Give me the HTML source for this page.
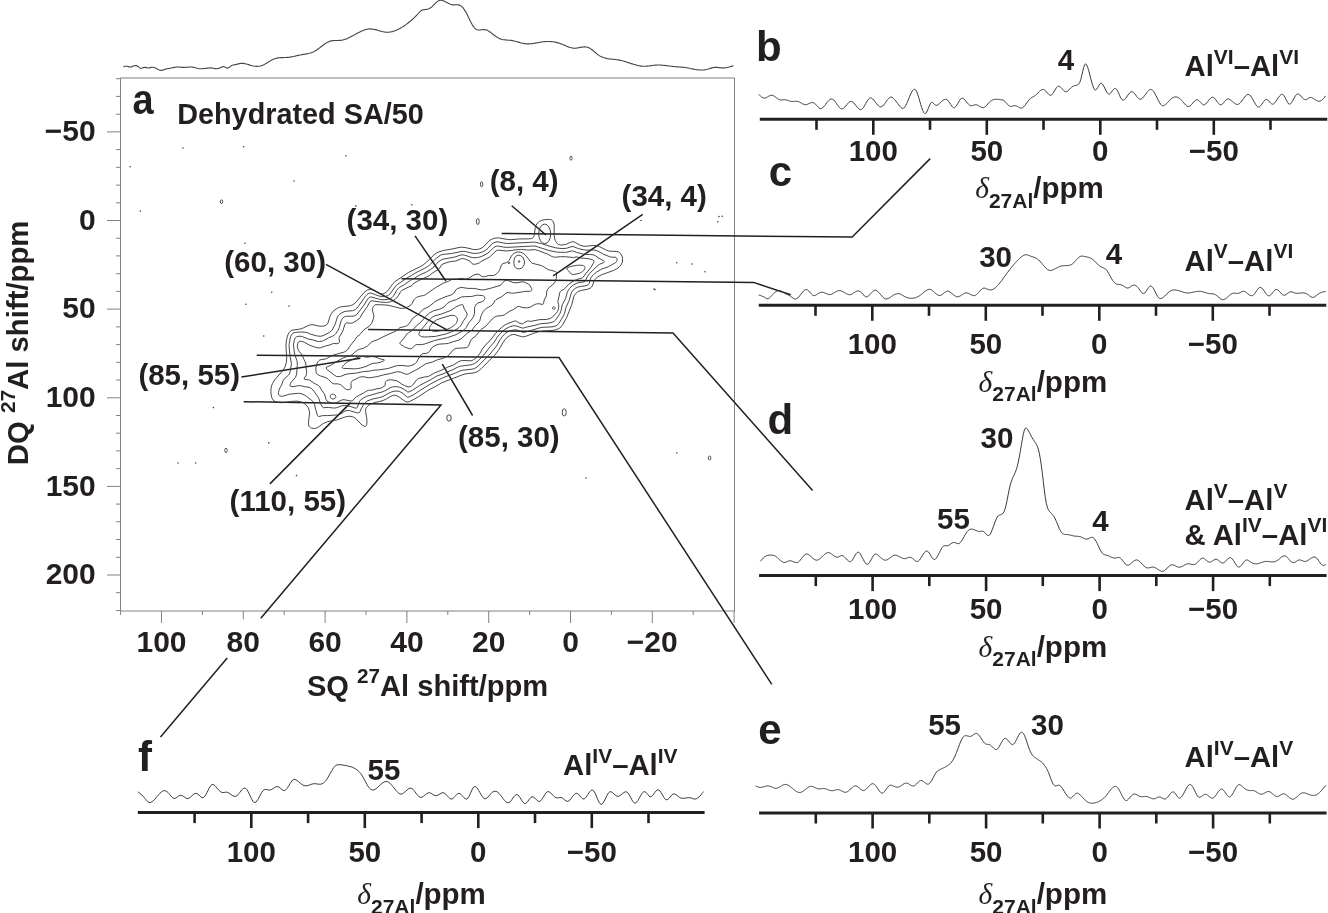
<!DOCTYPE html>
<html><head><meta charset="utf-8"><style>
html,body{margin:0;padding:0;background:#fff;}
svg{display:block;will-change:transform;}
text{font-family:"Liberation Sans",sans-serif;fill:#231f20;}
</style></head><body>
<svg width="1328" height="913" viewBox="0 0 1328 913">
<rect width="1328" height="913" fill="#fff"/>
<rect x="120.5" y="78" width="614" height="533" fill="none" stroke="#808086" stroke-width="1"/>
<line x1="116.0" y1="78.7" x2="120.5" y2="78.7" stroke="#808086" stroke-width="1.00"/>
<line x1="116.0" y1="96.4" x2="120.5" y2="96.4" stroke="#808086" stroke-width="1.00"/>
<line x1="116.0" y1="114.2" x2="120.5" y2="114.2" stroke="#808086" stroke-width="1.00"/>
<line x1="107.0" y1="131.9" x2="120.5" y2="131.9" stroke="#808086" stroke-width="1.00"/>
<line x1="116.0" y1="149.6" x2="120.5" y2="149.6" stroke="#808086" stroke-width="1.00"/>
<line x1="116.0" y1="167.3" x2="120.5" y2="167.3" stroke="#808086" stroke-width="1.00"/>
<line x1="116.0" y1="185.1" x2="120.5" y2="185.1" stroke="#808086" stroke-width="1.00"/>
<line x1="116.0" y1="202.8" x2="120.5" y2="202.8" stroke="#808086" stroke-width="1.00"/>
<line x1="107.0" y1="220.5" x2="120.5" y2="220.5" stroke="#808086" stroke-width="1.00"/>
<line x1="116.0" y1="238.2" x2="120.5" y2="238.2" stroke="#808086" stroke-width="1.00"/>
<line x1="116.0" y1="255.9" x2="120.5" y2="255.9" stroke="#808086" stroke-width="1.00"/>
<line x1="116.0" y1="273.7" x2="120.5" y2="273.7" stroke="#808086" stroke-width="1.00"/>
<line x1="116.0" y1="291.4" x2="120.5" y2="291.4" stroke="#808086" stroke-width="1.00"/>
<line x1="107.0" y1="309.1" x2="120.5" y2="309.1" stroke="#808086" stroke-width="1.00"/>
<line x1="116.0" y1="326.9" x2="120.5" y2="326.9" stroke="#808086" stroke-width="1.00"/>
<line x1="116.0" y1="344.6" x2="120.5" y2="344.6" stroke="#808086" stroke-width="1.00"/>
<line x1="116.0" y1="362.3" x2="120.5" y2="362.3" stroke="#808086" stroke-width="1.00"/>
<line x1="116.0" y1="380.0" x2="120.5" y2="380.0" stroke="#808086" stroke-width="1.00"/>
<line x1="107.0" y1="397.8" x2="120.5" y2="397.8" stroke="#808086" stroke-width="1.00"/>
<line x1="116.0" y1="415.5" x2="120.5" y2="415.5" stroke="#808086" stroke-width="1.00"/>
<line x1="116.0" y1="433.2" x2="120.5" y2="433.2" stroke="#808086" stroke-width="1.00"/>
<line x1="116.0" y1="450.9" x2="120.5" y2="450.9" stroke="#808086" stroke-width="1.00"/>
<line x1="116.0" y1="468.6" x2="120.5" y2="468.6" stroke="#808086" stroke-width="1.00"/>
<line x1="107.0" y1="486.4" x2="120.5" y2="486.4" stroke="#808086" stroke-width="1.00"/>
<line x1="116.0" y1="504.1" x2="120.5" y2="504.1" stroke="#808086" stroke-width="1.00"/>
<line x1="116.0" y1="521.8" x2="120.5" y2="521.8" stroke="#808086" stroke-width="1.00"/>
<line x1="116.0" y1="539.5" x2="120.5" y2="539.5" stroke="#808086" stroke-width="1.00"/>
<line x1="116.0" y1="557.3" x2="120.5" y2="557.3" stroke="#808086" stroke-width="1.00"/>
<line x1="107.0" y1="575.0" x2="120.5" y2="575.0" stroke="#808086" stroke-width="1.00"/>
<line x1="116.0" y1="592.7" x2="120.5" y2="592.7" stroke="#808086" stroke-width="1.00"/>
<line x1="116.0" y1="610.5" x2="120.5" y2="610.5" stroke="#808086" stroke-width="1.00"/>
<line x1="120.6" y1="611.0" x2="120.6" y2="615.0" stroke="#808086" stroke-width="1.00"/>
<line x1="161.5" y1="611.0" x2="161.5" y2="623.0" stroke="#808086" stroke-width="1.00"/>
<line x1="202.4" y1="611.0" x2="202.4" y2="615.0" stroke="#808086" stroke-width="1.00"/>
<line x1="243.3" y1="611.0" x2="243.3" y2="619.4" stroke="#808086" stroke-width="1.00"/>
<line x1="284.2" y1="611.0" x2="284.2" y2="615.0" stroke="#808086" stroke-width="1.00"/>
<line x1="325.1" y1="611.0" x2="325.1" y2="623.0" stroke="#808086" stroke-width="1.00"/>
<line x1="366.0" y1="611.0" x2="366.0" y2="615.0" stroke="#808086" stroke-width="1.00"/>
<line x1="406.9" y1="611.0" x2="406.9" y2="623.0" stroke="#808086" stroke-width="1.00"/>
<line x1="447.8" y1="611.0" x2="447.8" y2="615.0" stroke="#808086" stroke-width="1.00"/>
<line x1="488.7" y1="611.0" x2="488.7" y2="623.0" stroke="#808086" stroke-width="1.00"/>
<line x1="529.6" y1="611.0" x2="529.6" y2="615.0" stroke="#808086" stroke-width="1.00"/>
<line x1="570.5" y1="611.0" x2="570.5" y2="623.0" stroke="#808086" stroke-width="1.00"/>
<line x1="611.4" y1="611.0" x2="611.4" y2="615.0" stroke="#808086" stroke-width="1.00"/>
<line x1="652.3" y1="611.0" x2="652.3" y2="623.0" stroke="#808086" stroke-width="1.00"/>
<line x1="693.2" y1="611.0" x2="693.2" y2="615.0" stroke="#808086" stroke-width="1.00"/>
<line x1="734.1" y1="611.0" x2="734.1" y2="623.0" stroke="#808086" stroke-width="1.00"/>
<text x="95.7" y="141.1" font-size="30.0" text-anchor="end" font-weight="bold">&#8722;50</text>
<text x="95.7" y="229.7" font-size="30.0" text-anchor="end" font-weight="bold">0</text>
<text x="95.7" y="318.3" font-size="30.0" text-anchor="end" font-weight="bold">50</text>
<text x="95.7" y="406.9" font-size="30.0" text-anchor="end" font-weight="bold">100</text>
<text x="95.7" y="495.6" font-size="30.0" text-anchor="end" font-weight="bold">150</text>
<text x="95.7" y="584.2" font-size="30.0" text-anchor="end" font-weight="bold">200</text>
<text x="161.5" y="652.4" font-size="30.0" text-anchor="middle" font-weight="bold">100</text>
<text x="243.3" y="652.4" font-size="30.0" text-anchor="middle" font-weight="bold">80</text>
<text x="325.1" y="652.4" font-size="30.0" text-anchor="middle" font-weight="bold">60</text>
<text x="406.9" y="652.4" font-size="30.0" text-anchor="middle" font-weight="bold">40</text>
<text x="488.7" y="652.4" font-size="30.0" text-anchor="middle" font-weight="bold">20</text>
<text x="570.5" y="652.4" font-size="30.0" text-anchor="middle" font-weight="bold">0</text>
<text x="652.3" y="652.4" font-size="30.0" text-anchor="middle" font-weight="bold">&#8722;20</text>
<text x="306.9" y="695.8" font-size="29.5" font-weight="bold" textLength="241.3" lengthAdjust="spacingAndGlyphs">SQ <tspan font-size="21" dy="-12.4">27</tspan><tspan dy="12.4">Al shift/ppm</tspan></text>
<text transform="translate(27.6,465.2) rotate(-90)" x="0" y="0" font-size="29.5" font-weight="bold" textLength="244.6" lengthAdjust="spacingAndGlyphs">DQ <tspan font-size="21" dy="-12.4">27</tspan><tspan dy="12.4">Al shift/ppm</tspan></text>
<text x="132.5" y="114.3" font-size="42.0" text-anchor="start" font-weight="bold" textLength="21.1" lengthAdjust="spacingAndGlyphs">a</text>
<text x="177.2" y="124.4" font-size="29.5" text-anchor="start" font-weight="bold" textLength="246.6" lengthAdjust="spacingAndGlyphs">Dehydrated SA/50</text>
<path d="M123.3,66.7 L124.3,66.5 L125.3,66.3 L126.3,66.2 L127.3,66.3 L128.3,66.6 L129.3,66.9 L130.3,67.0 L131.3,66.9 L132.3,66.5 L133.3,66.1 L134.3,65.7 L135.3,65.5 L136.3,65.6 L137.3,66.0 L138.3,66.7 L139.3,67.6 L140.3,68.2 L141.3,68.3 L142.3,68.0 L143.3,67.6 L144.3,67.4 L145.3,67.4 L146.3,67.6 L147.3,67.8 L148.3,68.0 L149.3,67.9 L150.3,67.6 L151.3,67.4 L152.3,67.2 L153.3,67.3 L154.3,67.5 L155.3,67.9 L156.3,68.4 L157.3,69.0 L158.3,69.6 L159.3,70.0 L160.3,70.3 L161.3,70.4 L162.3,70.2 L163.3,69.9 L164.3,69.6 L165.3,69.2 L166.3,68.9 L167.3,68.7 L168.3,68.5 L169.3,68.4 L170.3,68.2 L171.3,68.0 L172.3,67.8 L173.3,67.6 L174.3,67.4 L175.3,67.2 L176.3,67.1 L177.3,67.0 L178.3,67.0 L179.3,67.0 L180.3,67.1 L181.3,67.3 L182.3,67.4 L183.3,67.4 L184.3,67.5 L185.3,67.4 L186.3,67.3 L187.3,67.2 L188.3,67.1 L189.3,67.0 L190.3,67.0 L191.3,67.0 L192.3,67.1 L193.3,67.2 L194.3,67.4 L195.3,67.7 L196.3,68.0 L197.3,68.3 L198.3,68.5 L199.3,68.7 L200.3,68.8 L201.3,68.8 L202.3,68.7 L203.3,68.6 L204.3,68.5 L205.3,68.4 L206.3,68.2 L207.3,68.1 L208.3,68.0 L209.3,67.9 L210.3,67.9 L211.3,68.0 L212.3,68.1 L213.3,68.3 L214.3,68.5 L215.3,68.6 L216.3,68.7 L217.3,68.6 L218.3,68.4 L219.3,68.1 L220.3,67.7 L221.3,67.3 L222.3,66.8 L223.3,66.6 L224.3,66.7 L225.3,67.2 L226.3,67.9 L227.3,68.2 L228.3,67.9 L229.3,67.2 L230.3,66.4 L231.3,65.8 L232.3,65.3 L233.3,65.0 L234.3,64.8 L235.3,64.6 L236.3,64.4 L237.3,64.1 L238.3,63.9 L239.3,63.6 L240.3,63.5 L241.3,63.4 L242.3,63.4 L243.3,63.4 L244.3,63.6 L245.3,63.8 L246.3,64.0 L247.3,64.3 L248.3,64.6 L249.3,64.9 L250.3,65.2 L251.3,65.5 L252.3,65.8 L253.3,66.0 L254.3,66.2 L255.3,66.3 L256.3,66.4 L257.3,66.4 L258.3,66.3 L259.3,66.2 L260.3,66.0 L261.3,65.7 L262.3,65.4 L263.3,65.0 L264.3,64.5 L265.3,63.9 L266.3,63.3 L267.3,62.7 L268.3,62.1 L269.3,61.5 L270.3,60.9 L271.3,60.3 L272.3,59.8 L273.3,59.3 L274.3,58.9 L275.3,58.5 L276.3,58.3 L277.3,58.1 L278.3,57.9 L279.3,57.8 L280.3,57.7 L281.3,57.6 L282.3,57.6 L283.3,57.6 L284.3,57.5 L285.3,57.5 L286.3,57.5 L287.3,57.4 L288.3,57.4 L289.3,57.2 L290.3,57.1 L291.3,56.9 L292.3,56.7 L293.3,56.5 L294.3,56.3 L295.3,56.1 L296.3,55.8 L297.3,55.6 L298.3,55.4 L299.3,55.2 L300.3,55.0 L301.3,54.8 L302.3,54.6 L303.3,54.4 L304.3,54.3 L305.3,54.1 L306.3,53.9 L307.3,53.7 L308.3,53.5 L309.3,53.3 L310.3,53.0 L311.3,52.7 L312.3,52.3 L313.3,51.9 L314.3,51.4 L315.3,50.8 L316.3,50.2 L317.3,49.5 L318.3,48.8 L319.3,48.1 L320.3,47.3 L321.3,46.5 L322.3,45.8 L323.3,45.0 L324.3,44.3 L325.3,43.6 L326.3,43.0 L327.3,42.4 L328.3,41.9 L329.3,41.5 L330.3,41.1 L331.3,40.9 L332.3,40.7 L333.3,40.6 L334.3,40.5 L335.3,40.5 L336.3,40.5 L337.3,40.5 L338.3,40.5 L339.3,40.4 L340.3,40.4 L341.3,40.3 L342.3,40.1 L343.3,39.8 L344.3,39.6 L345.3,39.2 L346.3,38.9 L347.3,38.4 L348.3,38.0 L349.3,37.5 L350.3,37.0 L351.3,36.5 L352.3,36.0 L353.3,35.4 L354.3,34.9 L355.3,34.3 L356.3,33.8 L357.3,33.2 L358.3,32.7 L359.3,32.2 L360.3,31.7 L361.3,31.2 L362.3,30.8 L363.3,30.4 L364.3,30.0 L365.3,29.7 L366.3,29.4 L367.3,29.2 L368.3,29.0 L369.3,28.9 L370.3,28.9 L371.3,29.0 L372.3,29.1 L373.3,29.2 L374.3,29.4 L375.3,29.6 L376.3,29.9 L377.3,30.2 L378.3,30.5 L379.3,30.8 L380.3,31.1 L381.3,31.3 L382.3,31.6 L383.3,31.8 L384.3,32.0 L385.3,32.1 L386.3,32.2 L387.3,32.2 L388.3,32.2 L389.3,32.1 L390.3,32.0 L391.3,31.8 L392.3,31.6 L393.3,31.3 L394.3,31.0 L395.3,30.6 L396.3,30.2 L397.3,29.8 L398.3,29.3 L399.3,28.8 L400.3,28.3 L401.3,27.7 L402.3,27.1 L403.3,26.5 L404.3,25.8 L405.3,25.1 L406.3,24.4 L407.3,23.6 L408.3,22.8 L409.3,22.0 L410.3,21.2 L411.3,20.4 L412.3,19.5 L413.3,18.6 L414.3,17.6 L415.3,16.6 L416.3,15.6 L417.3,14.6 L418.3,13.5 L419.3,12.3 L420.3,11.3 L421.3,10.6 L422.3,10.1 L423.3,9.8 L424.3,9.6 L425.3,9.5 L426.3,9.4 L427.3,9.2 L428.3,9.0 L429.3,8.6 L430.3,8.1 L431.3,7.3 L432.3,6.4 L433.3,5.4 L434.3,4.4 L435.3,3.4 L436.3,2.4 L437.3,1.6 L438.3,0.9 L439.3,0.5 L440.3,0.3 L441.3,0.3 L442.3,0.5 L443.3,0.8 L444.3,1.3 L445.3,1.8 L446.3,2.3 L447.3,2.8 L448.3,3.3 L449.3,3.8 L450.3,4.2 L451.3,4.6 L452.3,4.8 L453.3,4.9 L454.3,4.9 L455.3,4.8 L456.3,4.8 L457.3,4.8 L458.3,4.9 L459.3,5.1 L460.3,5.6 L461.3,6.2 L462.3,7.1 L463.3,8.2 L464.3,9.6 L465.3,11.1 L466.3,12.9 L467.3,14.8 L468.3,16.9 L469.3,19.0 L470.3,21.0 L471.3,23.0 L472.3,24.8 L473.3,26.4 L474.3,27.8 L475.3,28.7 L476.3,29.4 L477.3,29.8 L478.3,30.0 L479.3,30.0 L480.3,30.0 L481.3,29.8 L482.3,29.7 L483.3,29.6 L484.3,29.6 L485.3,29.7 L486.3,29.9 L487.3,30.3 L488.3,30.9 L489.3,31.5 L490.3,32.2 L491.3,32.9 L492.3,33.7 L493.3,34.5 L494.3,35.2 L495.3,36.0 L496.3,36.7 L497.3,37.3 L498.3,37.9 L499.3,38.4 L500.3,38.9 L501.3,39.2 L502.3,39.5 L503.3,39.7 L504.3,39.8 L505.3,39.9 L506.3,40.0 L507.3,40.1 L508.3,40.2 L509.3,40.2 L510.3,40.3 L511.3,40.4 L512.3,40.6 L513.3,40.8 L514.3,41.0 L515.3,41.3 L516.3,41.5 L517.3,41.8 L518.3,42.1 L519.3,42.4 L520.3,42.7 L521.3,43.0 L522.3,43.2 L523.3,43.4 L524.3,43.6 L525.3,43.8 L526.3,43.9 L527.3,43.9 L528.3,43.9 L529.3,43.9 L530.3,43.8 L531.3,43.7 L532.3,43.6 L533.3,43.5 L534.3,43.3 L535.3,43.1 L536.3,42.9 L537.3,42.7 L538.3,42.6 L539.3,42.4 L540.3,42.2 L541.3,42.0 L542.3,41.9 L543.3,41.8 L544.3,41.7 L545.3,41.6 L546.3,41.5 L547.3,41.5 L548.3,41.5 L549.3,41.5 L550.3,41.5 L551.3,41.6 L552.3,41.7 L553.3,41.8 L554.3,42.0 L555.3,42.1 L556.3,42.4 L557.3,42.6 L558.3,42.9 L559.3,43.2 L560.3,43.6 L561.3,43.9 L562.3,44.3 L563.3,44.8 L564.3,45.2 L565.3,45.6 L566.3,46.1 L567.3,46.5 L568.3,46.9 L569.3,47.2 L570.3,47.5 L571.3,47.8 L572.3,48.0 L573.3,48.1 L574.3,48.2 L575.3,48.2 L576.3,48.1 L577.3,48.0 L578.3,47.8 L579.3,47.6 L580.3,47.4 L581.3,47.2 L582.3,47.1 L583.3,47.0 L584.3,46.9 L585.3,46.9 L586.3,47.0 L587.3,47.2 L588.3,47.5 L589.3,48.0 L590.3,48.6 L591.3,49.2 L592.3,50.0 L593.3,50.8 L594.3,51.6 L595.3,52.5 L596.3,53.3 L597.3,54.2 L598.3,54.9 L599.3,55.6 L600.3,56.2 L601.3,56.7 L602.3,57.1 L603.3,57.5 L604.3,57.8 L605.3,58.1 L606.3,58.4 L607.3,58.6 L608.3,58.7 L609.3,58.9 L610.3,59.0 L611.3,59.1 L612.3,59.2 L613.3,59.3 L614.3,59.4 L615.3,59.5 L616.3,59.7 L617.3,59.8 L618.3,59.9 L619.3,60.1 L620.3,60.3 L621.3,60.5 L622.3,60.8 L623.3,61.0 L624.3,61.3 L625.3,61.6 L626.3,61.9 L627.3,62.3 L628.3,62.6 L629.3,62.9 L630.3,63.3 L631.3,63.6 L632.3,63.9 L633.3,64.2 L634.3,64.5 L635.3,64.8 L636.3,65.1 L637.3,65.3 L638.3,65.6 L639.3,65.8 L640.3,65.9 L641.3,66.1 L642.3,66.2 L643.3,66.2 L644.3,66.3 L645.3,66.2 L646.3,66.2 L647.3,66.1 L648.3,66.0 L649.3,65.9 L650.3,65.7 L651.3,65.6 L652.3,65.5 L653.3,65.3 L654.3,65.2 L655.3,65.1 L656.3,65.1 L657.3,65.0 L658.3,65.0 L659.3,65.0 L660.3,65.0 L661.3,65.1 L662.3,65.2 L663.3,65.3 L664.3,65.4 L665.3,65.5 L666.3,65.6 L667.3,65.8 L668.3,65.9 L669.3,66.0 L670.3,66.2 L671.3,66.3 L672.3,66.4 L673.3,66.5 L674.3,66.6 L675.3,66.7 L676.3,66.8 L677.3,66.9 L678.3,66.9 L679.3,67.0 L680.3,67.0 L681.3,67.1 L682.3,67.2 L683.3,67.3 L684.3,67.4 L685.3,67.5 L686.3,67.7 L687.3,67.8 L688.3,68.0 L689.3,68.2 L690.3,68.5 L691.3,68.7 L692.3,68.9 L693.3,69.1 L694.3,69.3 L695.3,69.5 L696.3,69.7 L697.3,69.8 L698.3,69.9 L699.3,70.0 L700.3,70.0 L701.3,70.0 L702.3,70.0 L703.3,70.0 L704.3,69.9 L705.3,69.7 L706.3,69.5 L707.3,69.3 L708.3,69.0 L709.3,68.7 L710.3,68.4 L711.3,68.1 L712.3,67.8 L713.3,67.6 L714.3,67.4 L715.3,67.4 L716.3,67.4 L717.3,67.4 L718.3,67.5 L719.3,67.6 L720.3,67.8 L721.3,67.9 L722.3,67.9 L723.3,68.0 L724.3,67.9 L725.3,67.8 L726.3,67.7 L727.3,67.5 L728.3,67.3 L729.3,67.0 L730.3,66.7 L731.3,66.4 L732.3,66.1 L733.3,65.8" fill="none" stroke="#444" stroke-width="1.10" stroke-linejoin="round"/>
<text x="489.7" y="190.8" font-size="29.5" text-anchor="start" font-weight="bold">(8, 4)</text>
<text x="621.6" y="206.0" font-size="29.5" text-anchor="start" font-weight="bold">(34, 4)</text>
<text x="346.6" y="229.8" font-size="29.5" text-anchor="start" font-weight="bold">(34, 30)</text>
<text x="224.3" y="271.8" font-size="29.5" text-anchor="start" font-weight="bold">(60, 30)</text>
<text x="138.4" y="385.4" font-size="29.5" text-anchor="start" font-weight="bold">(85, 55)</text>
<text x="458.0" y="446.8" font-size="29.5" text-anchor="start" font-weight="bold">(85, 30)</text>
<text x="229.6" y="510.5" font-size="29.5" text-anchor="start" font-weight="bold">(110, 55)</text>
<line x1="511.7" y1="205.8" x2="546.0" y2="235.0" stroke="#231f20" stroke-width="1.50"/>
<line x1="642.7" y1="214.4" x2="553.2" y2="275.9" stroke="#231f20" stroke-width="1.50"/>
<line x1="415.0" y1="235.8" x2="445.9" y2="281.0" stroke="#231f20" stroke-width="1.50"/>
<line x1="325.9" y1="264.3" x2="447.5" y2="330.1" stroke="#231f20" stroke-width="1.50"/>
<line x1="241.4" y1="377.0" x2="360.4" y2="358.3" stroke="#231f20" stroke-width="1.50"/>
<line x1="472.6" y1="415.5" x2="442.3" y2="364.2" stroke="#231f20" stroke-width="1.50"/>
<line x1="269.9" y1="483.9" x2="350.6" y2="402.6" stroke="#231f20" stroke-width="1.50"/>
<polyline points="501.7,233.5 852.2,237.1 930.2,158.6" fill="none" stroke="#231f20" stroke-width="1.50" stroke-linejoin="miter"/>
<polyline points="401.5,278.7 753.6,282.4 790.7,294.7" fill="none" stroke="#231f20" stroke-width="1.50" stroke-linejoin="miter"/>
<polyline points="368.1,329.6 673.0,332.9 812.6,490.5" fill="none" stroke="#231f20" stroke-width="1.50" stroke-linejoin="miter"/>
<polyline points="256.7,355.2 559.0,357.6 771.8,684.4" fill="none" stroke="#231f20" stroke-width="1.50" stroke-linejoin="miter"/>
<polyline points="243.7,401.7 441.0,405.0 260.8,618.3" fill="none" stroke="#231f20" stroke-width="1.50" stroke-linejoin="miter"/>
<polyline points="227.2,658.1 160.5,737.0" fill="none" stroke="#231f20" stroke-width="1.50" stroke-linejoin="miter"/>
<line x1="759.8" y1="119.3" x2="1327.3" y2="119.3" stroke="#231f20" stroke-width="3"/>
<line x1="816.5" y1="119.3" x2="816.5" y2="129.8" stroke="#231f20" stroke-width="2.6"/>
<line x1="873.3" y1="119.3" x2="873.3" y2="134.8" stroke="#231f20" stroke-width="2.6"/>
<line x1="930.0" y1="119.3" x2="930.0" y2="129.8" stroke="#231f20" stroke-width="2.6"/>
<line x1="986.8" y1="119.3" x2="986.8" y2="134.8" stroke="#231f20" stroke-width="2.6"/>
<line x1="1043.5" y1="119.3" x2="1043.5" y2="129.8" stroke="#231f20" stroke-width="2.6"/>
<line x1="1100.3" y1="119.3" x2="1100.3" y2="134.8" stroke="#231f20" stroke-width="2.6"/>
<line x1="1157.0" y1="119.3" x2="1157.0" y2="129.8" stroke="#231f20" stroke-width="2.6"/>
<line x1="1213.8" y1="119.3" x2="1213.8" y2="134.8" stroke="#231f20" stroke-width="2.6"/>
<line x1="1270.5" y1="119.3" x2="1270.5" y2="129.8" stroke="#231f20" stroke-width="2.6"/>
<text x="873.3" y="161.3" font-size="29.5" text-anchor="middle" font-weight="bold">100</text>
<text x="986.8" y="161.3" font-size="29.5" text-anchor="middle" font-weight="bold">50</text>
<text x="1100.3" y="161.3" font-size="29.5" text-anchor="middle" font-weight="bold">0</text>
<text x="1213.8" y="161.3" font-size="29.5" text-anchor="middle" font-weight="bold">&#8722;50</text>
<text x="975.2" y="198.4" font-size="29.5" font-weight="bold"><tspan font-family="Liberation Serif" font-style="italic" font-weight="normal">&#948;</tspan><tspan font-size="21" dy="9.3">27Al</tspan><tspan dy="-9.3">/ppm</tspan></text>
<text x="756.1" y="61.3" font-size="42.0" text-anchor="start" font-weight="bold">b</text>
<path d="M758.7,94.3 L759.7,95.3 L760.7,96.3 L761.7,97.1 L762.7,97.7 L763.7,98.1 L764.7,98.2 L765.7,97.9 L766.7,97.4 L767.7,96.8 L768.7,96.2 L769.7,95.7 L770.7,95.3 L771.7,95.3 L772.7,95.4 L773.7,95.8 L774.7,96.5 L775.7,97.2 L776.7,98.0 L777.7,98.7 L778.7,99.4 L779.7,99.8 L780.7,100.0 L781.7,100.0 L782.7,99.9 L783.7,99.7 L784.7,99.7 L785.7,99.8 L786.7,100.0 L787.7,100.4 L788.7,100.7 L789.7,101.1 L790.7,101.3 L791.7,101.5 L792.7,101.5 L793.7,101.4 L794.7,101.3 L795.7,101.3 L796.7,101.3 L797.7,101.4 L798.7,101.7 L799.7,102.2 L800.7,102.7 L801.7,103.3 L802.7,103.9 L803.7,104.3 L804.7,104.6 L805.7,104.7 L806.7,104.6 L807.7,104.2 L808.7,103.7 L809.7,103.3 L810.7,102.8 L811.7,102.6 L812.7,102.6 L813.7,102.9 L814.7,103.4 L815.7,104.3 L816.7,105.4 L817.7,106.6 L818.7,107.6 L819.7,108.4 L820.7,108.6 L821.7,108.4 L822.7,107.7 L823.7,106.8 L824.7,105.6 L825.7,104.3 L826.7,102.9 L827.7,101.6 L828.7,100.5 L829.7,99.6 L830.7,99.1 L831.7,99.0 L832.7,99.3 L833.7,100.0 L834.7,101.1 L835.7,102.4 L836.7,103.8 L837.7,105.3 L838.7,106.6 L839.7,107.7 L840.7,108.5 L841.7,108.9 L842.7,108.7 L843.7,108.1 L844.7,107.2 L845.7,106.0 L846.7,104.8 L847.7,103.6 L848.7,102.6 L849.7,101.8 L850.7,101.4 L851.7,101.5 L852.7,102.0 L853.7,102.8 L854.7,104.0 L855.7,105.2 L856.7,106.6 L857.7,107.8 L858.7,108.8 L859.7,109.5 L860.7,109.7 L861.7,109.3 L862.7,108.4 L863.7,107.1 L864.7,105.4 L865.7,103.6 L866.7,101.9 L867.7,100.3 L868.7,99.0 L869.7,98.1 L870.7,97.9 L871.7,98.2 L872.7,99.0 L873.7,100.0 L874.7,101.3 L875.7,102.6 L876.7,103.9 L877.7,105.0 L878.7,106.0 L879.7,106.7 L880.7,106.9 L881.7,106.7 L882.7,106.0 L883.7,105.0 L884.7,103.7 L885.7,102.3 L886.7,100.8 L887.7,99.5 L888.7,98.3 L889.7,97.5 L890.7,97.1 L891.7,97.2 L892.7,97.7 L893.7,98.6 L894.7,99.6 L895.7,100.9 L896.7,102.2 L897.7,103.6 L898.7,104.9 L899.7,106.1 L900.7,107.2 L901.7,108.0 L902.7,108.4 L903.7,108.2 L904.7,107.2 L905.7,105.6 L906.7,103.5 L907.7,101.2 L908.7,98.7 L909.7,96.3 L910.7,94.0 L911.7,92.0 L912.7,90.4 L913.7,89.5 L914.7,89.3 L915.7,90.0 L916.7,91.7 L917.7,94.3 L918.7,97.4 L919.7,100.9 L920.7,104.4 L921.7,107.6 L922.7,110.4 L923.7,112.5 L924.7,113.5 L925.7,113.3 L926.7,112.0 L927.7,109.9 L928.7,107.4 L929.7,105.0 L930.7,103.1 L931.7,102.3 L932.7,102.6 L933.7,103.4 L934.7,104.5 L935.7,105.2 L936.7,105.3 L937.7,105.0 L938.7,104.2 L939.7,103.3 L940.7,102.4 L941.7,101.4 L942.7,100.6 L943.7,99.9 L944.7,99.4 L945.7,99.3 L946.7,99.5 L947.7,100.2 L948.7,101.4 L949.7,102.9 L950.7,104.5 L951.7,106.0 L952.7,107.2 L953.7,107.8 L954.7,107.6 L955.7,106.7 L956.7,105.3 L957.7,103.7 L958.7,101.9 L959.7,100.2 L960.7,98.9 L961.7,98.2 L962.7,98.2 L963.7,98.8 L964.7,99.8 L965.7,100.9 L966.7,102.1 L967.7,103.3 L968.7,104.4 L969.7,105.2 L970.7,105.7 L971.7,105.7 L972.7,105.5 L973.7,105.2 L974.7,104.9 L975.7,104.7 L976.7,104.9 L977.7,105.2 L978.7,105.8 L979.7,106.4 L980.7,107.0 L981.7,107.4 L982.7,107.7 L983.7,107.6 L984.7,107.1 L985.7,106.3 L986.7,105.3 L987.7,104.1 L988.7,103.0 L989.7,101.9 L990.7,101.0 L991.7,100.4 L992.7,99.9 L993.7,99.5 L994.7,99.3 L995.7,99.3 L996.7,99.3 L997.7,99.3 L998.7,99.4 L999.7,99.6 L1000.7,99.7 L1001.7,99.8 L1002.7,99.9 L1003.7,100.4 L1004.7,101.2 L1005.7,102.3 L1006.7,103.4 L1007.7,104.6 L1008.7,105.5 L1009.7,106.2 L1010.7,106.4 L1011.7,106.4 L1012.7,106.1 L1013.7,105.8 L1014.7,105.6 L1015.7,105.7 L1016.7,106.0 L1017.7,106.6 L1018.7,107.2 L1019.7,107.7 L1020.7,108.1 L1021.7,108.0 L1022.7,107.6 L1023.7,106.8 L1024.7,105.7 L1025.7,104.3 L1026.7,102.9 L1027.7,101.5 L1028.7,100.2 L1029.7,99.1 L1030.7,98.2 L1031.7,97.5 L1032.7,97.0 L1033.7,96.4 L1034.7,95.8 L1035.7,95.1 L1036.7,94.2 L1037.7,93.2 L1038.7,92.1 L1039.7,91.2 L1040.7,90.4 L1041.7,89.8 L1042.7,89.5 L1043.7,89.6 L1044.7,90.1 L1045.7,91.0 L1046.7,92.1 L1047.7,93.3 L1048.7,94.4 L1049.7,95.1 L1050.7,95.3 L1051.7,94.9 L1052.7,93.8 L1053.7,92.3 L1054.7,90.5 L1055.7,88.8 L1056.7,87.4 L1057.7,86.4 L1058.7,86.1 L1059.7,86.5 L1060.7,87.3 L1061.7,88.3 L1062.7,89.5 L1063.7,90.6 L1064.7,91.4 L1065.7,91.8 L1066.7,91.7 L1067.7,91.1 L1068.7,90.2 L1069.7,89.1 L1070.7,88.0 L1071.7,87.2 L1072.7,86.5 L1073.7,86.1 L1074.7,85.7 L1075.7,85.5 L1076.7,85.2 L1077.7,84.8 L1078.7,84.1 L1079.7,82.5 L1080.7,79.8 L1081.7,75.8 L1082.7,71.4 L1083.7,67.4 L1084.7,64.6 L1085.7,63.8 L1086.7,65.0 L1087.7,67.4 L1088.7,70.6 L1089.7,74.3 L1090.7,78.3 L1091.7,82.1 L1092.7,85.5 L1093.7,88.1 L1094.7,89.8 L1095.7,90.0 L1096.7,89.2 L1097.7,87.6 L1098.7,85.8 L1099.7,84.2 L1100.7,83.3 L1101.7,83.4 L1102.7,84.3 L1103.7,86.0 L1104.7,88.0 L1105.7,90.1 L1106.7,92.0 L1107.7,93.4 L1108.7,94.1 L1109.7,93.9 L1110.7,93.0 L1111.7,91.7 L1112.7,90.4 L1113.7,89.2 L1114.7,88.5 L1115.7,88.6 L1116.7,89.5 L1117.7,91.2 L1118.7,93.4 L1119.7,95.7 L1120.7,97.8 L1121.7,99.4 L1122.7,100.1 L1123.7,100.1 L1124.7,99.5 L1125.7,98.4 L1126.7,97.0 L1127.7,95.4 L1128.7,94.0 L1129.7,92.8 L1130.7,91.9 L1131.7,91.7 L1132.7,91.9 L1133.7,92.7 L1134.7,93.8 L1135.7,95.0 L1136.7,96.4 L1137.7,97.6 L1138.7,98.6 L1139.7,99.2 L1140.7,99.2 L1141.7,98.8 L1142.7,97.9 L1143.7,96.8 L1144.7,95.5 L1145.7,94.1 L1146.7,92.7 L1147.7,91.4 L1148.7,90.4 L1149.7,89.7 L1150.7,89.4 L1151.7,89.7 L1152.7,90.4 L1153.7,91.6 L1154.7,93.2 L1155.7,95.1 L1156.7,97.1 L1157.7,99.2 L1158.7,101.1 L1159.7,102.9 L1160.7,104.3 L1161.7,105.3 L1162.7,105.8 L1163.7,105.7 L1164.7,105.2 L1165.7,104.4 L1166.7,103.5 L1167.7,102.4 L1168.7,101.3 L1169.7,100.2 L1170.7,99.2 L1171.7,98.4 L1172.7,97.8 L1173.7,97.3 L1174.7,97.0 L1175.7,96.9 L1176.7,97.0 L1177.7,97.3 L1178.7,97.8 L1179.7,98.5 L1180.7,99.4 L1181.7,100.4 L1182.7,101.6 L1183.7,102.8 L1184.7,104.0 L1185.7,105.0 L1186.7,105.9 L1187.7,106.4 L1188.7,106.5 L1189.7,106.2 L1190.7,105.5 L1191.7,104.4 L1192.7,103.2 L1193.7,102.0 L1194.7,100.9 L1195.7,100.1 L1196.7,99.7 L1197.7,99.8 L1198.7,100.4 L1199.7,101.4 L1200.7,102.5 L1201.7,103.6 L1202.7,104.4 L1203.7,104.8 L1204.7,104.7 L1205.7,104.0 L1206.7,102.9 L1207.7,101.7 L1208.7,100.3 L1209.7,99.1 L1210.7,98.1 L1211.7,97.4 L1212.7,97.3 L1213.7,97.7 L1214.7,98.5 L1215.7,99.7 L1216.7,101.1 L1217.7,102.4 L1218.7,103.6 L1219.7,104.5 L1220.7,104.8 L1221.7,104.5 L1222.7,103.8 L1223.7,102.7 L1224.7,101.4 L1225.7,100.3 L1226.7,99.4 L1227.7,98.9 L1228.7,99.0 L1229.7,99.4 L1230.7,100.1 L1231.7,100.9 L1232.7,101.8 L1233.7,102.6 L1234.7,103.4 L1235.7,104.0 L1236.7,104.4 L1237.7,104.4 L1238.7,104.1 L1239.7,103.4 L1240.7,102.4 L1241.7,101.1 L1242.7,99.7 L1243.7,98.3 L1244.7,97.0 L1245.7,95.8 L1246.7,95.0 L1247.7,94.5 L1248.7,94.5 L1249.7,95.0 L1250.7,96.0 L1251.7,97.5 L1252.7,99.2 L1253.7,101.0 L1254.7,102.8 L1255.7,104.5 L1256.7,105.9 L1257.7,106.8 L1258.7,107.1 L1259.7,106.7 L1260.7,105.8 L1261.7,104.4 L1262.7,102.9 L1263.7,101.5 L1264.7,100.3 L1265.7,99.6 L1266.7,99.5 L1267.7,100.0 L1268.7,100.9 L1269.7,102.0 L1270.7,103.1 L1271.7,103.9 L1272.7,104.2 L1273.7,103.8 L1274.7,102.9 L1275.7,101.7 L1276.7,100.2 L1277.7,98.6 L1278.7,97.1 L1279.7,95.8 L1280.7,94.9 L1281.7,94.4 L1282.7,94.5 L1283.7,95.3 L1284.7,96.9 L1285.7,98.8 L1286.7,100.8 L1287.7,102.6 L1288.7,103.9 L1289.7,104.2 L1290.7,103.7 L1291.7,102.4 L1292.7,100.7 L1293.7,98.9 L1294.7,97.0 L1295.7,95.4 L1296.7,94.3 L1297.7,93.9 L1298.7,94.1 L1299.7,94.9 L1300.7,95.9 L1301.7,97.0 L1302.7,98.2 L1303.7,99.1 L1304.7,99.6 L1305.7,99.7 L1306.7,99.3 L1307.7,98.7 L1308.7,98.1 L1309.7,97.6 L1310.7,97.4 L1311.7,97.6 L1312.7,98.1 L1313.7,98.7 L1314.7,99.4 L1315.7,100.0 L1316.7,100.6 L1317.7,101.0 L1318.7,101.3 L1319.7,101.2 L1320.7,100.8 L1321.7,100.2 L1322.7,99.3 L1323.7,98.3 L1324.7,97.1 L1325.7,95.9 L1325.8,95.9" fill="none" stroke="#3a3a3a" stroke-width="1.00" stroke-linejoin="round"/>
<line x1="758.8" y1="305.3" x2="1326.3" y2="305.3" stroke="#231f20" stroke-width="3"/>
<line x1="815.5" y1="305.3" x2="815.5" y2="315.8" stroke="#231f20" stroke-width="2.6"/>
<line x1="872.3" y1="305.3" x2="872.3" y2="320.8" stroke="#231f20" stroke-width="2.6"/>
<line x1="929.0" y1="305.3" x2="929.0" y2="315.8" stroke="#231f20" stroke-width="2.6"/>
<line x1="985.8" y1="305.3" x2="985.8" y2="320.8" stroke="#231f20" stroke-width="2.6"/>
<line x1="1042.5" y1="305.3" x2="1042.5" y2="315.8" stroke="#231f20" stroke-width="2.6"/>
<line x1="1099.3" y1="305.3" x2="1099.3" y2="320.8" stroke="#231f20" stroke-width="2.6"/>
<line x1="1156.0" y1="305.3" x2="1156.0" y2="315.8" stroke="#231f20" stroke-width="2.6"/>
<line x1="1212.8" y1="305.3" x2="1212.8" y2="320.8" stroke="#231f20" stroke-width="2.6"/>
<line x1="1269.5" y1="305.3" x2="1269.5" y2="315.8" stroke="#231f20" stroke-width="2.6"/>
<text x="872.3" y="353.8" font-size="29.5" text-anchor="middle" font-weight="bold">100</text>
<text x="985.8" y="353.8" font-size="29.5" text-anchor="middle" font-weight="bold">50</text>
<text x="1099.3" y="353.8" font-size="29.5" text-anchor="middle" font-weight="bold">0</text>
<text x="1212.8" y="353.8" font-size="29.5" text-anchor="middle" font-weight="bold">&#8722;50</text>
<text x="978.6" y="391.6" font-size="29.5" font-weight="bold"><tspan font-family="Liberation Serif" font-style="italic" font-weight="normal">&#948;</tspan><tspan font-size="21" dy="9.3">27Al</tspan><tspan dy="-9.3">/ppm</tspan></text>
<text x="768.7" y="185.9" font-size="42.0" text-anchor="start" font-weight="bold">c</text>
<path d="M758.7,295.1 L759.7,295.3 L760.7,295.6 L761.7,296.0 L762.7,296.4 L763.7,296.8 L764.7,297.3 L765.7,298.0 L766.7,298.6 L767.7,298.8 L768.7,298.5 L769.7,297.7 L770.7,296.7 L771.7,295.6 L772.7,294.5 L773.7,293.5 L774.7,292.6 L775.7,291.8 L776.7,291.2 L777.7,290.8 L778.7,290.7 L779.7,290.8 L780.7,291.0 L781.7,291.5 L782.7,292.0 L783.7,292.6 L784.7,293.2 L785.7,293.8 L786.7,294.3 L787.7,294.7 L788.7,295.2 L789.7,295.7 L790.7,296.4 L791.7,297.2 L792.7,297.9 L793.7,298.6 L794.7,299.0 L795.7,299.0 L796.7,298.6 L797.7,298.0 L798.7,297.0 L799.7,295.8 L800.7,294.4 L801.7,293.1 L802.7,291.9 L803.7,290.8 L804.7,290.0 L805.7,289.6 L806.7,289.6 L807.7,290.1 L808.7,290.9 L809.7,292.0 L810.7,293.2 L811.7,294.3 L812.7,295.2 L813.7,295.6 L814.7,295.6 L815.7,295.2 L816.7,294.6 L817.7,293.9 L818.7,293.3 L819.7,292.8 L820.7,292.4 L821.7,292.2 L822.7,292.3 L823.7,292.5 L824.7,292.9 L825.7,293.4 L826.7,293.8 L827.7,294.2 L828.7,294.5 L829.7,294.6 L830.7,294.5 L831.7,294.1 L832.7,293.6 L833.7,293.0 L834.7,292.4 L835.7,291.8 L836.7,291.3 L837.7,290.9 L838.7,290.6 L839.7,290.6 L840.7,290.8 L841.7,291.1 L842.7,291.6 L843.7,292.1 L844.7,292.7 L845.7,293.3 L846.7,293.9 L847.7,294.3 L848.7,294.6 L849.7,294.7 L850.7,294.6 L851.7,294.2 L852.7,293.6 L853.7,292.9 L854.7,292.3 L855.7,291.7 L856.7,291.2 L857.7,291.0 L858.7,291.0 L859.7,291.3 L860.7,291.9 L861.7,292.8 L862.7,293.9 L863.7,295.1 L864.7,296.2 L865.7,296.8 L866.7,296.9 L867.7,296.5 L868.7,295.8 L869.7,294.8 L870.7,293.7 L871.7,292.6 L872.7,291.6 L873.7,290.8 L874.7,290.3 L875.7,290.3 L876.7,290.7 L877.7,291.5 L878.7,292.4 L879.7,293.5 L880.7,294.7 L881.7,295.8 L882.7,296.9 L883.7,297.8 L884.7,298.5 L885.7,298.9 L886.7,298.9 L887.7,298.7 L888.7,298.2 L889.7,297.7 L890.7,297.0 L891.7,296.3 L892.7,295.6 L893.7,295.0 L894.7,294.5 L895.7,294.1 L896.7,293.8 L897.7,293.7 L898.7,293.7 L899.7,293.8 L900.7,294.2 L901.7,294.8 L902.7,295.4 L903.7,296.0 L904.7,296.6 L905.7,297.0 L906.7,297.4 L907.7,297.8 L908.7,298.0 L909.7,298.2 L910.7,298.3 L911.7,298.3 L912.7,298.3 L913.7,298.1 L914.7,297.9 L915.7,297.6 L916.7,297.2 L917.7,296.7 L918.7,296.2 L919.7,295.6 L920.7,294.9 L921.7,294.2 L922.7,293.4 L923.7,292.5 L924.7,291.7 L925.7,290.9 L926.7,290.2 L927.7,289.7 L928.7,289.4 L929.7,289.3 L930.7,289.6 L931.7,290.1 L932.7,290.8 L933.7,291.7 L934.7,292.6 L935.7,293.5 L936.7,294.3 L937.7,294.9 L938.7,295.4 L939.7,295.5 L940.7,295.3 L941.7,294.8 L942.7,294.1 L943.7,293.3 L944.7,292.4 L945.7,291.8 L946.7,291.3 L947.7,291.1 L948.7,291.3 L949.7,291.8 L950.7,292.5 L951.7,293.3 L952.7,294.1 L953.7,294.9 L954.7,295.7 L955.7,296.3 L956.7,296.7 L957.7,296.8 L958.7,296.6 L959.7,296.2 L960.7,295.7 L961.7,295.0 L962.7,294.4 L963.7,293.7 L964.7,293.2 L965.7,292.9 L966.7,292.9 L967.7,293.1 L968.7,293.5 L969.7,294.0 L970.7,294.5 L971.7,295.0 L972.7,295.4 L973.7,295.6 L974.7,295.6 L975.7,295.1 L976.7,294.4 L977.7,293.4 L978.7,292.4 L979.7,291.2 L980.7,290.2 L981.7,289.2 L982.7,288.5 L983.7,288.1 L984.7,288.1 L985.7,288.4 L986.7,288.9 L987.7,289.3 L988.7,289.6 L989.7,289.8 L990.7,289.9 L991.7,289.8 L992.7,289.5 L993.7,289.0 L994.7,288.3 L995.7,287.5 L996.7,286.6 L997.7,285.5 L998.7,284.3 L999.7,283.1 L1000.7,281.8 L1001.7,280.5 L1002.7,279.1 L1003.7,277.7 L1004.7,276.3 L1005.7,275.0 L1006.7,273.6 L1007.7,272.3 L1008.7,270.9 L1009.7,269.6 L1010.7,268.3 L1011.7,267.1 L1012.7,265.9 L1013.7,264.7 L1014.7,263.5 L1015.7,262.4 L1016.7,261.4 L1017.7,260.3 L1018.7,259.4 L1019.7,258.4 L1020.7,257.5 L1021.7,256.7 L1022.7,256.0 L1023.7,255.3 L1024.7,254.9 L1025.7,254.7 L1026.7,254.7 L1027.7,255.0 L1028.7,255.4 L1029.7,255.8 L1030.7,256.2 L1031.7,256.5 L1032.7,256.8 L1033.7,257.1 L1034.7,257.5 L1035.7,257.9 L1036.7,258.5 L1037.7,259.2 L1038.7,260.0 L1039.7,261.0 L1040.7,262.1 L1041.7,263.3 L1042.7,264.5 L1043.7,265.7 L1044.7,266.8 L1045.7,267.9 L1046.7,268.8 L1047.7,269.6 L1048.7,270.1 L1049.7,270.4 L1050.7,270.5 L1051.7,270.3 L1052.7,269.9 L1053.7,269.5 L1054.7,269.0 L1055.7,268.5 L1056.7,268.0 L1057.7,267.5 L1058.7,267.0 L1059.7,266.5 L1060.7,266.2 L1061.7,265.9 L1062.7,265.8 L1063.7,265.7 L1064.7,265.7 L1065.7,265.6 L1066.7,265.6 L1067.7,265.6 L1068.7,265.4 L1069.7,265.2 L1070.7,264.9 L1071.7,264.4 L1072.7,263.7 L1073.7,262.8 L1074.7,261.7 L1075.7,260.6 L1076.7,259.5 L1077.7,258.4 L1078.7,257.5 L1079.7,256.7 L1080.7,256.3 L1081.7,256.1 L1082.7,256.1 L1083.7,256.3 L1084.7,256.5 L1085.7,256.7 L1086.7,256.9 L1087.7,257.2 L1088.7,257.4 L1089.7,257.8 L1090.7,258.2 L1091.7,258.8 L1092.7,259.5 L1093.7,260.3 L1094.7,261.2 L1095.7,262.2 L1096.7,263.2 L1097.7,264.2 L1098.7,265.2 L1099.7,266.0 L1100.7,266.7 L1101.7,267.2 L1102.7,267.6 L1103.7,268.0 L1104.7,268.5 L1105.7,269.2 L1106.7,270.3 L1107.7,271.8 L1108.7,273.5 L1109.7,275.3 L1110.7,277.1 L1111.7,278.9 L1112.7,280.4 L1113.7,281.7 L1114.7,282.8 L1115.7,283.6 L1116.7,284.1 L1117.7,284.3 L1118.7,284.5 L1119.7,284.6 L1120.7,284.7 L1121.7,285.0 L1122.7,285.5 L1123.7,286.1 L1124.7,286.8 L1125.7,287.4 L1126.7,287.9 L1127.7,288.0 L1128.7,287.8 L1129.7,287.3 L1130.7,286.7 L1131.7,286.0 L1132.7,285.4 L1133.7,285.1 L1134.7,285.1 L1135.7,285.5 L1136.7,286.3 L1137.7,287.3 L1138.7,288.6 L1139.7,290.0 L1140.7,291.3 L1141.7,292.5 L1142.7,293.4 L1143.7,293.6 L1144.7,293.1 L1145.7,291.9 L1146.7,290.4 L1147.7,288.8 L1148.7,287.4 L1149.7,286.4 L1150.7,286.0 L1151.7,286.4 L1152.7,287.4 L1153.7,288.9 L1154.7,290.8 L1155.7,292.9 L1156.7,294.9 L1157.7,296.6 L1158.7,297.8 L1159.7,298.5 L1160.7,298.6 L1161.7,298.3 L1162.7,297.8 L1163.7,297.0 L1164.7,296.1 L1165.7,295.1 L1166.7,294.1 L1167.7,293.0 L1168.7,292.1 L1169.7,291.4 L1170.7,290.8 L1171.7,290.4 L1172.7,290.1 L1173.7,290.0 L1174.7,289.9 L1175.7,290.0 L1176.7,290.2 L1177.7,290.4 L1178.7,290.6 L1179.7,291.0 L1180.7,291.3 L1181.7,291.6 L1182.7,292.0 L1183.7,292.3 L1184.7,292.5 L1185.7,292.8 L1186.7,292.9 L1187.7,293.0 L1188.7,292.9 L1189.7,292.9 L1190.7,292.7 L1191.7,292.5 L1192.7,292.3 L1193.7,292.1 L1194.7,291.9 L1195.7,291.7 L1196.7,291.5 L1197.7,291.4 L1198.7,291.3 L1199.7,291.3 L1200.7,291.4 L1201.7,291.5 L1202.7,291.8 L1203.7,292.1 L1204.7,292.4 L1205.7,292.7 L1206.7,293.0 L1207.7,293.3 L1208.7,293.5 L1209.7,293.6 L1210.7,293.7 L1211.7,293.7 L1212.7,293.8 L1213.7,294.0 L1214.7,294.3 L1215.7,294.8 L1216.7,295.6 L1217.7,296.4 L1218.7,297.3 L1219.7,298.1 L1220.7,298.9 L1221.7,299.4 L1222.7,299.7 L1223.7,299.6 L1224.7,299.2 L1225.7,298.6 L1226.7,297.8 L1227.7,296.9 L1228.7,296.0 L1229.7,295.1 L1230.7,294.3 L1231.7,293.7 L1232.7,293.4 L1233.7,293.2 L1234.7,293.2 L1235.7,293.3 L1236.7,293.4 L1237.7,293.3 L1238.7,293.2 L1239.7,292.8 L1240.7,292.3 L1241.7,291.8 L1242.7,291.4 L1243.7,291.3 L1244.7,291.5 L1245.7,292.0 L1246.7,292.8 L1247.7,293.7 L1248.7,294.5 L1249.7,295.2 L1250.7,295.6 L1251.7,295.8 L1252.7,295.5 L1253.7,294.8 L1254.7,293.6 L1255.7,292.2 L1256.7,290.6 L1257.7,289.2 L1258.7,288.1 L1259.7,287.4 L1260.7,287.4 L1261.7,287.9 L1262.7,289.0 L1263.7,290.3 L1264.7,291.8 L1265.7,293.2 L1266.7,294.5 L1267.7,295.4 L1268.7,295.8 L1269.7,295.7 L1270.7,294.9 L1271.7,293.8 L1272.7,292.5 L1273.7,291.3 L1274.7,290.2 L1275.7,289.6 L1276.7,289.5 L1277.7,289.9 L1278.7,290.7 L1279.7,291.7 L1280.7,292.8 L1281.7,293.9 L1282.7,294.8 L1283.7,295.2 L1284.7,295.2 L1285.7,294.7 L1286.7,294.1 L1287.7,293.3 L1288.7,292.6 L1289.7,292.0 L1290.7,291.8 L1291.7,291.8 L1292.7,292.1 L1293.7,292.5 L1294.7,292.9 L1295.7,293.2 L1296.7,293.3 L1297.7,293.3 L1298.7,293.2 L1299.7,293.1 L1300.7,293.0 L1301.7,292.9 L1302.7,292.9 L1303.7,292.9 L1304.7,293.1 L1305.7,293.4 L1306.7,293.8 L1307.7,294.4 L1308.7,295.2 L1309.7,296.0 L1310.7,296.7 L1311.7,297.2 L1312.7,297.4 L1313.7,297.3 L1314.7,296.8 L1315.7,296.1 L1316.7,295.3 L1317.7,294.5 L1318.7,293.8 L1319.7,293.2 L1320.7,292.7 L1321.7,292.3 L1322.7,292.0 L1323.7,291.8 L1324.7,291.6 L1325.7,291.4 L1325.8,291.4" fill="none" stroke="#3a3a3a" stroke-width="1.00" stroke-linejoin="round"/>
<line x1="759.1" y1="575.6" x2="1326.6" y2="575.6" stroke="#231f20" stroke-width="3"/>
<line x1="815.8" y1="575.6" x2="815.8" y2="586.1" stroke="#231f20" stroke-width="2.6"/>
<line x1="872.6" y1="575.6" x2="872.6" y2="591.1" stroke="#231f20" stroke-width="2.6"/>
<line x1="929.3" y1="575.6" x2="929.3" y2="586.1" stroke="#231f20" stroke-width="2.6"/>
<line x1="986.1" y1="575.6" x2="986.1" y2="591.1" stroke="#231f20" stroke-width="2.6"/>
<line x1="1042.8" y1="575.6" x2="1042.8" y2="586.1" stroke="#231f20" stroke-width="2.6"/>
<line x1="1099.6" y1="575.6" x2="1099.6" y2="591.1" stroke="#231f20" stroke-width="2.6"/>
<line x1="1156.3" y1="575.6" x2="1156.3" y2="586.1" stroke="#231f20" stroke-width="2.6"/>
<line x1="1213.1" y1="575.6" x2="1213.1" y2="591.1" stroke="#231f20" stroke-width="2.6"/>
<line x1="1269.8" y1="575.6" x2="1269.8" y2="586.1" stroke="#231f20" stroke-width="2.6"/>
<text x="872.6" y="619.3" font-size="29.5" text-anchor="middle" font-weight="bold">100</text>
<text x="986.1" y="619.3" font-size="29.5" text-anchor="middle" font-weight="bold">50</text>
<text x="1099.6" y="619.3" font-size="29.5" text-anchor="middle" font-weight="bold">0</text>
<text x="1213.1" y="619.3" font-size="29.5" text-anchor="middle" font-weight="bold">&#8722;50</text>
<text x="978.6" y="656.8" font-size="29.5" font-weight="bold"><tspan font-family="Liberation Serif" font-style="italic" font-weight="normal">&#948;</tspan><tspan font-size="21" dy="9.3">27Al</tspan><tspan dy="-9.3">/ppm</tspan></text>
<text x="767.5" y="433.8" font-size="42.0" text-anchor="start" font-weight="bold">d</text>
<path d="M760.3,561.3 L761.3,560.2 L762.3,559.1 L763.3,558.1 L764.3,557.2 L765.3,556.5 L766.3,555.9 L767.3,555.5 L768.3,555.3 L769.3,555.1 L770.3,555.1 L771.3,555.1 L772.3,555.2 L773.3,555.3 L774.3,555.6 L775.3,556.1 L776.3,556.7 L777.3,557.5 L778.3,558.5 L779.3,559.4 L780.3,560.3 L781.3,561.1 L782.3,561.8 L783.3,562.3 L784.3,562.5 L785.3,562.4 L786.3,562.0 L787.3,561.6 L788.3,561.1 L789.3,560.8 L790.3,560.7 L791.3,560.9 L792.3,561.3 L793.3,561.7 L794.3,562.1 L795.3,562.4 L796.3,562.6 L797.3,562.5 L798.3,562.0 L799.3,561.2 L800.3,560.1 L801.3,558.8 L802.3,557.5 L803.3,556.3 L804.3,555.2 L805.3,554.4 L806.3,554.0 L807.3,554.1 L808.3,554.5 L809.3,555.2 L810.3,556.0 L811.3,556.9 L812.3,557.8 L813.3,558.6 L814.3,559.4 L815.3,559.9 L816.3,560.2 L817.3,560.1 L818.3,559.8 L819.3,559.2 L820.3,558.4 L821.3,557.5 L822.3,556.6 L823.3,555.6 L824.3,554.6 L825.3,553.8 L826.3,553.2 L827.3,552.7 L828.3,552.6 L829.3,552.8 L830.3,553.2 L831.3,553.8 L832.3,554.6 L833.3,555.4 L834.3,556.1 L835.3,556.7 L836.3,557.1 L837.3,557.2 L838.3,557.0 L839.3,556.5 L840.3,556.0 L841.3,555.6 L842.3,555.6 L843.3,556.0 L844.3,556.8 L845.3,557.8 L846.3,558.9 L847.3,560.0 L848.3,560.9 L849.3,561.5 L850.3,561.7 L851.3,561.2 L852.3,560.1 L853.3,558.5 L854.3,556.7 L855.3,555.0 L856.3,553.5 L857.3,552.4 L858.3,552.2 L859.3,552.7 L860.3,553.9 L861.3,555.6 L862.3,557.5 L863.3,559.5 L864.3,561.4 L865.3,562.9 L866.3,564.0 L867.3,564.3 L868.3,563.9 L869.3,562.7 L870.3,561.2 L871.3,559.4 L872.3,557.5 L873.3,555.9 L874.3,554.6 L875.3,554.0 L876.3,554.1 L877.3,554.7 L878.3,555.5 L879.3,556.4 L880.3,557.3 L881.3,558.1 L882.3,558.9 L883.3,559.6 L884.3,560.0 L885.3,560.2 L886.3,560.1 L887.3,559.7 L888.3,559.1 L889.3,558.4 L890.3,557.7 L891.3,556.9 L892.3,556.2 L893.3,555.6 L894.3,555.2 L895.3,555.1 L896.3,555.3 L897.3,555.7 L898.3,556.1 L899.3,556.6 L900.3,557.2 L901.3,557.7 L902.3,558.1 L903.3,558.4 L904.3,558.6 L905.3,558.6 L906.3,558.3 L907.3,558.0 L908.3,557.6 L909.3,557.3 L910.3,557.3 L911.3,557.6 L912.3,558.2 L913.3,559.0 L914.3,559.9 L915.3,560.7 L916.3,561.3 L917.3,561.5 L918.3,561.1 L919.3,560.2 L920.3,558.9 L921.3,557.4 L922.3,555.7 L923.3,554.1 L924.3,552.7 L925.3,551.6 L926.3,551.0 L927.3,551.1 L928.3,551.8 L929.3,553.1 L930.3,554.8 L931.3,556.5 L932.3,558.0 L933.3,559.1 L934.3,559.6 L935.3,559.2 L936.3,558.1 L937.3,556.6 L938.3,554.7 L939.3,552.7 L940.3,550.7 L941.3,548.8 L942.3,547.3 L943.3,546.3 L944.3,545.8 L945.3,545.7 L946.3,545.8 L947.3,545.8 L948.3,545.5 L949.3,545.0 L950.3,544.2 L951.3,543.5 L952.3,542.9 L953.3,542.5 L954.3,542.5 L955.3,542.8 L956.3,543.2 L957.3,543.5 L958.3,543.7 L959.3,543.4 L960.3,542.6 L961.3,541.4 L962.3,539.8 L963.3,538.1 L964.3,536.3 L965.3,534.5 L966.3,532.8 L967.3,531.4 L968.3,530.4 L969.3,529.7 L970.3,529.2 L971.3,529.1 L972.3,529.2 L973.3,529.4 L974.3,529.7 L975.3,530.2 L976.3,530.6 L977.3,531.0 L978.3,531.3 L979.3,531.4 L980.3,531.4 L981.3,531.2 L982.3,531.2 L983.3,531.4 L984.3,532.1 L985.3,533.2 L986.3,534.3 L987.3,535.2 L988.3,535.6 L989.3,535.2 L990.3,534.0 L991.3,532.1 L992.3,529.6 L993.3,526.8 L994.3,524.0 L995.3,521.2 L996.3,518.9 L997.3,517.0 L998.3,515.9 L999.3,515.2 L1000.3,514.8 L1001.3,514.4 L1002.3,513.9 L1003.3,512.9 L1004.3,511.1 L1005.3,508.2 L1006.3,504.1 L1007.3,499.2 L1008.3,494.0 L1009.3,489.0 L1010.3,484.8 L1011.3,481.5 L1012.3,478.9 L1013.3,476.7 L1014.3,474.6 L1015.3,472.3 L1016.3,469.6 L1017.3,466.2 L1018.3,462.0 L1019.3,457.0 L1020.3,451.5 L1021.3,445.4 L1022.3,439.5 L1023.3,434.3 L1024.3,430.4 L1025.3,428.3 L1026.3,428.0 L1027.3,428.9 L1028.3,430.4 L1029.3,432.3 L1030.3,434.2 L1031.3,436.2 L1032.3,438.0 L1033.3,439.7 L1034.3,441.2 L1035.3,442.6 L1036.3,444.2 L1037.3,446.2 L1038.3,449.1 L1039.3,453.2 L1040.3,458.6 L1041.3,465.2 L1042.3,472.9 L1043.3,481.4 L1044.3,489.9 L1045.3,497.4 L1046.3,503.2 L1047.3,507.1 L1048.3,509.6 L1049.3,511.2 L1050.3,512.3 L1051.3,513.3 L1052.3,514.3 L1053.3,515.6 L1054.3,517.1 L1055.3,519.0 L1056.3,521.3 L1057.3,523.7 L1058.3,526.1 L1059.3,528.5 L1060.3,530.5 L1061.3,532.2 L1062.3,533.4 L1063.3,534.0 L1064.3,534.4 L1065.3,534.5 L1066.3,534.5 L1067.3,534.6 L1068.3,534.7 L1069.3,534.9 L1070.3,535.1 L1071.3,535.4 L1072.3,535.6 L1073.3,535.9 L1074.3,536.0 L1075.3,536.2 L1076.3,536.2 L1077.3,536.3 L1078.3,536.4 L1079.3,536.5 L1080.3,536.7 L1081.3,537.1 L1082.3,537.6 L1083.3,538.1 L1084.3,538.6 L1085.3,538.9 L1086.3,539.1 L1087.3,539.0 L1088.3,538.7 L1089.3,538.2 L1090.3,537.7 L1091.3,537.4 L1092.3,537.3 L1093.3,537.7 L1094.3,538.6 L1095.3,540.0 L1096.3,541.6 L1097.3,543.6 L1098.3,545.7 L1099.3,547.9 L1100.3,550.0 L1101.3,551.8 L1102.3,553.2 L1103.3,554.1 L1104.3,554.6 L1105.3,554.9 L1106.3,555.2 L1107.3,555.4 L1108.3,555.7 L1109.3,556.2 L1110.3,556.7 L1111.3,557.2 L1112.3,557.6 L1113.3,557.9 L1114.3,558.1 L1115.3,558.1 L1116.3,557.9 L1117.3,557.6 L1118.3,557.4 L1119.3,557.5 L1120.3,558.0 L1121.3,558.9 L1122.3,560.1 L1123.3,561.4 L1124.3,562.7 L1125.3,563.9 L1126.3,564.8 L1127.3,565.2 L1128.3,565.2 L1129.3,564.8 L1130.3,564.0 L1131.3,563.2 L1132.3,562.3 L1133.3,561.4 L1134.3,560.7 L1135.3,560.2 L1136.3,559.9 L1137.3,560.0 L1138.3,560.5 L1139.3,561.2 L1140.3,562.1 L1141.3,563.1 L1142.3,564.2 L1143.3,565.3 L1144.3,566.2 L1145.3,567.0 L1146.3,567.6 L1147.3,567.9 L1148.3,567.9 L1149.3,567.8 L1150.3,567.5 L1151.3,567.3 L1152.3,567.1 L1153.3,567.1 L1154.3,567.3 L1155.3,567.7 L1156.3,568.3 L1157.3,569.0 L1158.3,569.6 L1159.3,570.3 L1160.3,570.8 L1161.3,571.2 L1162.3,571.3 L1163.3,571.2 L1164.3,570.7 L1165.3,570.0 L1166.3,569.0 L1167.3,568.0 L1168.3,567.0 L1169.3,566.0 L1170.3,565.3 L1171.3,564.9 L1172.3,564.8 L1173.3,564.9 L1174.3,565.3 L1175.3,565.8 L1176.3,566.4 L1177.3,566.8 L1178.3,567.1 L1179.3,567.2 L1180.3,567.1 L1181.3,566.8 L1182.3,566.4 L1183.3,565.8 L1184.3,565.2 L1185.3,564.7 L1186.3,564.2 L1187.3,563.8 L1188.3,563.7 L1189.3,563.8 L1190.3,564.1 L1191.3,564.3 L1192.3,564.6 L1193.3,564.6 L1194.3,564.5 L1195.3,564.2 L1196.3,563.5 L1197.3,562.6 L1198.3,561.5 L1199.3,560.4 L1200.3,559.4 L1201.3,558.6 L1202.3,558.2 L1203.3,558.2 L1204.3,558.7 L1205.3,559.5 L1206.3,560.3 L1207.3,561.2 L1208.3,561.8 L1209.3,562.1 L1210.3,562.1 L1211.3,561.7 L1212.3,561.0 L1213.3,560.4 L1214.3,559.7 L1215.3,559.3 L1216.3,559.2 L1217.3,559.6 L1218.3,560.2 L1219.3,561.1 L1220.3,561.9 L1221.3,562.6 L1222.3,563.0 L1223.3,563.0 L1224.3,562.4 L1225.3,561.5 L1226.3,560.4 L1227.3,559.3 L1228.3,558.4 L1229.3,557.8 L1230.3,557.6 L1231.3,558.0 L1232.3,559.0 L1233.3,560.3 L1234.3,561.9 L1235.3,563.5 L1236.3,565.1 L1237.3,566.3 L1238.3,567.0 L1239.3,567.0 L1240.3,566.5 L1241.3,565.4 L1242.3,564.2 L1243.3,562.8 L1244.3,561.5 L1245.3,560.5 L1246.3,559.9 L1247.3,560.0 L1248.3,560.5 L1249.3,561.2 L1250.3,561.8 L1251.3,562.4 L1252.3,563.0 L1253.3,563.4 L1254.3,563.7 L1255.3,563.9 L1256.3,563.9 L1257.3,563.7 L1258.3,563.5 L1259.3,563.3 L1260.3,562.9 L1261.3,562.6 L1262.3,562.3 L1263.3,561.9 L1264.3,561.7 L1265.3,561.5 L1266.3,561.4 L1267.3,561.4 L1268.3,561.5 L1269.3,561.6 L1270.3,561.8 L1271.3,561.9 L1272.3,561.9 L1273.3,561.9 L1274.3,561.8 L1275.3,561.5 L1276.3,561.1 L1277.3,560.5 L1278.3,559.7 L1279.3,558.9 L1280.3,558.0 L1281.3,557.2 L1282.3,556.5 L1283.3,556.1 L1284.3,555.9 L1285.3,556.0 L1286.3,556.5 L1287.3,557.4 L1288.3,558.5 L1289.3,559.7 L1290.3,560.9 L1291.3,561.9 L1292.3,562.5 L1293.3,562.7 L1294.3,562.5 L1295.3,562.0 L1296.3,561.4 L1297.3,560.7 L1298.3,560.2 L1299.3,559.9 L1300.3,560.0 L1301.3,560.3 L1302.3,560.7 L1303.3,561.1 L1304.3,561.4 L1305.3,561.5 L1306.3,561.2 L1307.3,560.8 L1308.3,560.1 L1309.3,559.4 L1310.3,558.7 L1311.3,558.0 L1312.3,557.5 L1313.3,557.1 L1314.3,557.0 L1315.3,557.2 L1316.3,557.8 L1317.3,558.9 L1318.3,560.2 L1319.3,561.7 L1320.3,563.1 L1321.3,564.3 L1322.3,565.1 L1323.3,565.4 L1324.3,565.2 L1325.3,564.7 L1325.8,564.4" fill="none" stroke="#3a3a3a" stroke-width="1.00" stroke-linejoin="round"/>
<line x1="759.1" y1="813.0" x2="1326.6" y2="813.0" stroke="#231f20" stroke-width="3"/>
<line x1="815.8" y1="813.0" x2="815.8" y2="823.5" stroke="#231f20" stroke-width="2.6"/>
<line x1="872.6" y1="813.0" x2="872.6" y2="828.5" stroke="#231f20" stroke-width="2.6"/>
<line x1="929.3" y1="813.0" x2="929.3" y2="823.5" stroke="#231f20" stroke-width="2.6"/>
<line x1="986.1" y1="813.0" x2="986.1" y2="828.5" stroke="#231f20" stroke-width="2.6"/>
<line x1="1042.8" y1="813.0" x2="1042.8" y2="823.5" stroke="#231f20" stroke-width="2.6"/>
<line x1="1099.6" y1="813.0" x2="1099.6" y2="828.5" stroke="#231f20" stroke-width="2.6"/>
<line x1="1156.3" y1="813.0" x2="1156.3" y2="823.5" stroke="#231f20" stroke-width="2.6"/>
<line x1="1213.1" y1="813.0" x2="1213.1" y2="828.5" stroke="#231f20" stroke-width="2.6"/>
<line x1="1269.8" y1="813.0" x2="1269.8" y2="823.5" stroke="#231f20" stroke-width="2.6"/>
<text x="872.6" y="861.9" font-size="29.5" text-anchor="middle" font-weight="bold">100</text>
<text x="986.1" y="861.9" font-size="29.5" text-anchor="middle" font-weight="bold">50</text>
<text x="1099.6" y="861.9" font-size="29.5" text-anchor="middle" font-weight="bold">0</text>
<text x="1213.1" y="861.9" font-size="29.5" text-anchor="middle" font-weight="bold">&#8722;50</text>
<text x="978.6" y="904.3" font-size="29.5" font-weight="bold"><tspan font-family="Liberation Serif" font-style="italic" font-weight="normal">&#948;</tspan><tspan font-size="21" dy="9.3">27Al</tspan><tspan dy="-9.3">/ppm</tspan></text>
<text x="758.3" y="743.6" font-size="42.0" text-anchor="start" font-weight="bold">e</text>
<path d="M755.5,785.9 L756.5,786.4 L757.5,786.8 L758.5,787.1 L759.5,787.3 L760.5,787.4 L761.5,787.4 L762.5,787.2 L763.5,786.9 L764.5,786.6 L765.5,786.3 L766.5,786.0 L767.5,785.9 L768.5,786.0 L769.5,786.2 L770.5,786.5 L771.5,786.8 L772.5,787.3 L773.5,787.7 L774.5,788.1 L775.5,788.3 L776.5,788.3 L777.5,788.1 L778.5,787.6 L779.5,787.1 L780.5,786.5 L781.5,785.8 L782.5,785.2 L783.5,784.8 L784.5,784.5 L785.5,784.4 L786.5,784.5 L787.5,784.9 L788.5,785.4 L789.5,786.1 L790.5,786.8 L791.5,787.6 L792.5,788.4 L793.5,789.3 L794.5,790.1 L795.5,790.8 L796.5,791.5 L797.5,792.0 L798.5,792.4 L799.5,792.5 L800.5,792.4 L801.5,792.1 L802.5,791.6 L803.5,791.0 L804.5,790.2 L805.5,789.4 L806.5,788.6 L807.5,787.9 L808.5,787.2 L809.5,786.7 L810.5,786.4 L811.5,786.4 L812.5,786.5 L813.5,786.9 L814.5,787.4 L815.5,787.9 L816.5,788.3 L817.5,788.7 L818.5,788.9 L819.5,788.9 L820.5,788.8 L821.5,788.7 L822.5,788.6 L823.5,788.5 L824.5,788.6 L825.5,788.8 L826.5,789.1 L827.5,789.5 L828.5,789.9 L829.5,790.3 L830.5,790.5 L831.5,790.7 L832.5,790.7 L833.5,790.5 L834.5,790.3 L835.5,790.0 L836.5,789.7 L837.5,789.6 L838.5,789.6 L839.5,789.9 L840.5,790.3 L841.5,790.9 L842.5,791.4 L843.5,791.9 L844.5,792.2 L845.5,792.3 L846.5,792.1 L847.5,791.6 L848.5,790.9 L849.5,790.0 L850.5,789.0 L851.5,788.0 L852.5,787.2 L853.5,786.5 L854.5,786.0 L855.5,785.9 L856.5,786.1 L857.5,786.6 L858.5,787.4 L859.5,788.2 L860.5,789.1 L861.5,789.8 L862.5,790.3 L863.5,790.5 L864.5,790.3 L865.5,789.7 L866.5,788.8 L867.5,787.8 L868.5,786.7 L869.5,785.6 L870.5,784.7 L871.5,784.0 L872.5,783.7 L873.5,783.8 L874.5,784.4 L875.5,785.4 L876.5,786.7 L877.5,788.2 L878.5,789.8 L879.5,791.2 L880.5,792.3 L881.5,793.0 L882.5,793.1 L883.5,792.5 L884.5,791.5 L885.5,790.2 L886.5,788.8 L887.5,787.4 L888.5,786.2 L889.5,785.4 L890.5,785.1 L891.5,785.3 L892.5,785.7 L893.5,786.1 L894.5,786.5 L895.5,786.8 L896.5,787.1 L897.5,787.2 L898.5,787.0 L899.5,786.6 L900.5,786.1 L901.5,785.4 L902.5,784.7 L903.5,784.0 L904.5,783.5 L905.5,783.2 L906.5,783.1 L907.5,783.3 L908.5,783.8 L909.5,784.4 L910.5,785.0 L911.5,785.6 L912.5,785.9 L913.5,786.0 L914.5,785.6 L915.5,784.9 L916.5,784.0 L917.5,782.9 L918.5,781.9 L919.5,781.1 L920.5,780.6 L921.5,780.5 L922.5,780.9 L923.5,781.5 L924.5,782.4 L925.5,783.2 L926.5,783.8 L927.5,784.2 L928.5,784.1 L929.5,783.4 L930.5,782.3 L931.5,780.8 L932.5,779.0 L933.5,777.1 L934.5,775.2 L935.5,773.5 L936.5,772.0 L937.5,771.0 L938.5,770.3 L939.5,769.8 L940.5,769.3 L941.5,768.9 L942.5,768.4 L943.5,767.9 L944.5,767.4 L945.5,766.9 L946.5,766.3 L947.5,765.7 L948.5,765.0 L949.5,764.2 L950.5,763.3 L951.5,762.1 L952.5,760.7 L953.5,759.1 L954.5,757.1 L955.5,754.9 L956.5,752.5 L957.5,749.9 L958.5,747.2 L959.5,744.5 L960.5,742.0 L961.5,739.7 L962.5,737.9 L963.5,736.6 L964.5,735.9 L965.5,735.7 L966.5,735.7 L967.5,736.0 L968.5,736.2 L969.5,736.4 L970.5,736.4 L971.5,736.0 L972.5,735.4 L973.5,734.7 L974.5,734.0 L975.5,733.6 L976.5,733.5 L977.5,733.9 L978.5,734.7 L979.5,735.9 L980.5,737.3 L981.5,738.9 L982.5,740.5 L983.5,741.9 L984.5,743.1 L985.5,743.8 L986.5,744.2 L987.5,744.3 L988.5,744.5 L989.5,744.7 L990.5,745.2 L991.5,746.1 L992.5,747.1 L993.5,748.1 L994.5,749.0 L995.5,749.5 L996.5,749.6 L997.5,748.9 L998.5,747.7 L999.5,746.1 L1000.5,744.2 L1001.5,742.4 L1002.5,740.7 L1003.5,739.3 L1004.5,738.5 L1005.5,738.4 L1006.5,738.9 L1007.5,739.8 L1008.5,741.0 L1009.5,742.2 L1010.5,743.4 L1011.5,744.2 L1012.5,744.6 L1013.5,744.2 L1014.5,743.2 L1015.5,741.6 L1016.5,739.6 L1017.5,737.5 L1018.5,735.5 L1019.5,733.9 L1020.5,732.7 L1021.5,732.2 L1022.5,732.5 L1023.5,733.6 L1024.5,735.4 L1025.5,737.9 L1026.5,740.8 L1027.5,743.9 L1028.5,746.9 L1029.5,749.7 L1030.5,752.0 L1031.5,753.8 L1032.5,755.3 L1033.5,756.4 L1034.5,757.3 L1035.5,758.0 L1036.5,758.6 L1037.5,759.2 L1038.5,759.9 L1039.5,760.5 L1040.5,761.3 L1041.5,762.1 L1042.5,763.0 L1043.5,764.1 L1044.5,765.4 L1045.5,766.8 L1046.5,768.4 L1047.5,770.3 L1048.5,772.5 L1049.5,775.1 L1050.5,777.8 L1051.5,780.5 L1052.5,782.9 L1053.5,784.7 L1054.5,785.6 L1055.5,785.9 L1056.5,785.7 L1057.5,785.4 L1058.5,785.2 L1059.5,785.4 L1060.5,786.1 L1061.5,787.1 L1062.5,788.5 L1063.5,790.1 L1064.5,791.8 L1065.5,793.4 L1066.5,794.9 L1067.5,796.3 L1068.5,797.3 L1069.5,797.9 L1070.5,798.1 L1071.5,797.7 L1072.5,796.9 L1073.5,795.8 L1074.5,794.8 L1075.5,793.9 L1076.5,793.3 L1077.5,793.2 L1078.5,793.6 L1079.5,794.3 L1080.5,795.3 L1081.5,796.3 L1082.5,797.3 L1083.5,798.4 L1084.5,799.5 L1085.5,800.4 L1086.5,801.3 L1087.5,801.9 L1088.5,802.5 L1089.5,802.8 L1090.5,803.1 L1091.5,803.2 L1092.5,803.2 L1093.5,803.2 L1094.5,803.0 L1095.5,802.8 L1096.5,802.4 L1097.5,802.1 L1098.5,801.6 L1099.5,801.1 L1100.5,800.5 L1101.5,799.9 L1102.5,799.2 L1103.5,798.3 L1104.5,797.4 L1105.5,796.4 L1106.5,795.2 L1107.5,793.9 L1108.5,792.6 L1109.5,791.2 L1110.5,789.9 L1111.5,788.8 L1112.5,787.8 L1113.5,787.0 L1114.5,786.5 L1115.5,786.4 L1116.5,786.7 L1117.5,787.5 L1118.5,788.8 L1119.5,790.5 L1120.5,792.5 L1121.5,794.5 L1122.5,796.5 L1123.5,798.2 L1124.5,799.6 L1125.5,800.4 L1126.5,800.5 L1127.5,800.0 L1128.5,799.1 L1129.5,798.0 L1130.5,796.8 L1131.5,795.7 L1132.5,794.7 L1133.5,794.2 L1134.5,794.0 L1135.5,794.2 L1136.5,794.6 L1137.5,795.2 L1138.5,795.8 L1139.5,796.3 L1140.5,796.6 L1141.5,796.7 L1142.5,796.7 L1143.5,796.6 L1144.5,796.5 L1145.5,796.4 L1146.5,796.5 L1147.5,796.7 L1148.5,797.0 L1149.5,797.5 L1150.5,798.0 L1151.5,798.4 L1152.5,798.7 L1153.5,798.8 L1154.5,798.8 L1155.5,798.4 L1156.5,797.9 L1157.5,797.4 L1158.5,797.0 L1159.5,797.0 L1160.5,797.2 L1161.5,797.7 L1162.5,798.2 L1163.5,798.7 L1164.5,799.0 L1165.5,798.9 L1166.5,798.3 L1167.5,797.3 L1168.5,796.1 L1169.5,794.8 L1170.5,793.6 L1171.5,792.6 L1172.5,792.0 L1173.5,791.9 L1174.5,792.6 L1175.5,793.8 L1176.5,795.2 L1177.5,796.6 L1178.5,797.6 L1179.5,798.1 L1180.5,797.8 L1181.5,796.9 L1182.5,795.6 L1183.5,793.8 L1184.5,791.9 L1185.5,790.0 L1186.5,788.1 L1187.5,786.5 L1188.5,785.2 L1189.5,784.6 L1190.5,784.5 L1191.5,785.2 L1192.5,786.5 L1193.5,788.2 L1194.5,790.3 L1195.5,792.5 L1196.5,794.4 L1197.5,796.0 L1198.5,797.1 L1199.5,797.4 L1200.5,797.1 L1201.5,796.5 L1202.5,795.7 L1203.5,795.0 L1204.5,794.4 L1205.5,794.3 L1206.5,794.5 L1207.5,795.2 L1208.5,796.0 L1209.5,796.8 L1210.5,797.5 L1211.5,798.0 L1212.5,798.2 L1213.5,797.8 L1214.5,796.9 L1215.5,795.7 L1216.5,794.3 L1217.5,792.8 L1218.5,791.4 L1219.5,790.2 L1220.5,789.4 L1221.5,789.0 L1222.5,789.4 L1223.5,790.2 L1224.5,791.5 L1225.5,792.9 L1226.5,794.4 L1227.5,795.7 L1228.5,796.6 L1229.5,797.0 L1230.5,796.6 L1231.5,795.6 L1232.5,794.2 L1233.5,792.4 L1234.5,790.4 L1235.5,788.5 L1236.5,786.8 L1237.5,785.5 L1238.5,784.7 L1239.5,784.6 L1240.5,785.0 L1241.5,785.8 L1242.5,786.7 L1243.5,787.6 L1244.5,788.4 L1245.5,789.0 L1246.5,789.6 L1247.5,790.1 L1248.5,790.4 L1249.5,790.5 L1250.5,790.6 L1251.5,790.5 L1252.5,790.5 L1253.5,790.6 L1254.5,790.9 L1255.5,791.4 L1256.5,792.0 L1257.5,792.6 L1258.5,793.3 L1259.5,793.8 L1260.5,794.2 L1261.5,794.2 L1262.5,794.0 L1263.5,793.6 L1264.5,793.1 L1265.5,792.5 L1266.5,792.0 L1267.5,791.6 L1268.5,791.5 L1269.5,791.7 L1270.5,792.2 L1271.5,792.9 L1272.5,793.7 L1273.5,794.6 L1274.5,795.4 L1275.5,796.1 L1276.5,796.4 L1277.5,796.5 L1278.5,796.2 L1279.5,795.7 L1280.5,795.0 L1281.5,794.5 L1282.5,794.0 L1283.5,793.8 L1284.5,794.0 L1285.5,794.4 L1286.5,795.1 L1287.5,795.9 L1288.5,796.8 L1289.5,797.7 L1290.5,798.4 L1291.5,798.9 L1292.5,799.2 L1293.5,799.1 L1294.5,798.7 L1295.5,798.0 L1296.5,797.2 L1297.5,796.3 L1298.5,795.4 L1299.5,794.5 L1300.5,793.7 L1301.5,793.2 L1302.5,792.9 L1303.5,792.8 L1304.5,792.9 L1305.5,793.2 L1306.5,793.5 L1307.5,793.9 L1308.5,794.3 L1309.5,794.7 L1310.5,795.0 L1311.5,795.3 L1312.5,795.4 L1313.5,795.5 L1314.5,795.4 L1315.5,795.2 L1316.5,794.8 L1317.5,794.2 L1318.5,793.5 L1319.5,792.6 L1320.5,791.7 L1321.5,790.6 L1322.5,789.4 L1323.5,788.2 L1324.5,787.0 L1325.5,785.7 L1325.8,785.3" fill="none" stroke="#3a3a3a" stroke-width="1.00" stroke-linejoin="round"/>
<line x1="137.8" y1="812.6" x2="704.6" y2="812.6" stroke="#231f20" stroke-width="3"/>
<line x1="194.6" y1="812.6" x2="194.6" y2="823.1" stroke="#231f20" stroke-width="2.6"/>
<line x1="251.3" y1="812.6" x2="251.3" y2="828.1" stroke="#231f20" stroke-width="2.6"/>
<line x1="308.1" y1="812.6" x2="308.1" y2="823.1" stroke="#231f20" stroke-width="2.6"/>
<line x1="364.8" y1="812.6" x2="364.8" y2="828.1" stroke="#231f20" stroke-width="2.6"/>
<line x1="421.6" y1="812.6" x2="421.6" y2="823.1" stroke="#231f20" stroke-width="2.6"/>
<line x1="478.3" y1="812.6" x2="478.3" y2="828.1" stroke="#231f20" stroke-width="2.6"/>
<line x1="535.0" y1="812.6" x2="535.0" y2="823.1" stroke="#231f20" stroke-width="2.6"/>
<line x1="591.8" y1="812.6" x2="591.8" y2="828.1" stroke="#231f20" stroke-width="2.6"/>
<line x1="648.5" y1="812.6" x2="648.5" y2="823.1" stroke="#231f20" stroke-width="2.6"/>
<text x="251.3" y="862.1" font-size="29.5" text-anchor="middle" font-weight="bold">100</text>
<text x="364.8" y="862.1" font-size="29.5" text-anchor="middle" font-weight="bold">50</text>
<text x="478.3" y="862.1" font-size="29.5" text-anchor="middle" font-weight="bold">0</text>
<text x="591.8" y="862.1" font-size="29.5" text-anchor="middle" font-weight="bold">&#8722;50</text>
<text x="357.3" y="904.3" font-size="29.5" font-weight="bold"><tspan font-family="Liberation Serif" font-style="italic" font-weight="normal">&#948;</tspan><tspan font-size="21" dy="9.3">27Al</tspan><tspan dy="-9.3">/ppm</tspan></text>
<text x="138.1" y="771.4" font-size="42.0" text-anchor="start" font-weight="bold">f</text>
<path d="M137.9,791.8 L138.9,792.6 L139.9,793.4 L140.9,794.2 L141.9,795.1 L142.9,796.1 L143.9,797.2 L144.9,798.5 L145.9,799.7 L146.9,800.8 L147.9,801.7 L148.9,802.4 L149.9,802.5 L150.9,802.3 L151.9,801.8 L152.9,801.1 L153.9,800.1 L154.9,799.1 L155.9,797.9 L156.9,796.7 L157.9,795.5 L158.9,794.4 L159.9,793.3 L160.9,792.4 L161.9,791.6 L162.9,791.0 L163.9,790.7 L164.9,790.7 L165.9,791.0 L166.9,791.5 L167.9,792.4 L168.9,793.5 L169.9,794.8 L170.9,796.0 L171.9,797.1 L172.9,797.9 L173.9,798.4 L174.9,798.4 L175.9,798.0 L176.9,797.3 L177.9,796.6 L178.9,795.9 L179.9,795.4 L180.9,795.2 L181.9,795.4 L182.9,796.0 L183.9,796.7 L184.9,797.4 L185.9,798.1 L186.9,798.5 L187.9,798.6 L188.9,798.2 L189.9,797.6 L190.9,796.7 L191.9,795.8 L192.9,794.9 L193.9,794.1 L194.9,793.6 L195.9,793.4 L196.9,793.6 L197.9,794.2 L198.9,795.0 L199.9,796.0 L200.9,796.9 L201.9,797.5 L202.9,797.6 L203.9,797.2 L204.9,796.1 L205.9,794.5 L206.9,792.7 L207.9,790.7 L208.9,788.7 L209.9,786.9 L210.9,785.5 L211.9,784.6 L212.9,784.4 L213.9,784.8 L214.9,785.7 L215.9,786.8 L216.9,787.9 L217.9,789.1 L218.9,790.3 L219.9,791.2 L220.9,792.0 L221.9,792.4 L222.9,792.6 L223.9,792.5 L224.9,792.3 L225.9,792.2 L226.9,792.2 L227.9,792.5 L228.9,793.0 L229.9,793.7 L230.9,794.4 L231.9,795.1 L232.9,795.8 L233.9,796.2 L234.9,796.4 L235.9,796.2 L236.9,795.7 L237.9,794.8 L238.9,793.6 L239.9,792.3 L240.9,791.0 L241.9,789.9 L242.9,788.9 L243.9,788.3 L244.9,788.1 L245.9,788.5 L246.9,789.6 L247.9,791.2 L248.9,793.2 L249.9,795.4 L250.9,797.6 L251.9,799.6 L252.9,801.2 L253.9,802.3 L254.9,802.5 L255.9,802.1 L256.9,801.0 L257.9,799.5 L258.9,797.7 L259.9,795.8 L260.9,793.9 L261.9,792.2 L262.9,790.9 L263.9,790.0 L264.9,789.6 L265.9,789.5 L266.9,789.6 L267.9,789.9 L268.9,790.0 L269.9,790.1 L270.9,789.8 L271.9,789.3 L272.9,788.7 L273.9,788.0 L274.9,787.3 L275.9,786.8 L276.9,786.6 L277.9,786.6 L278.9,787.1 L279.9,787.8 L280.9,788.7 L281.9,789.5 L282.9,790.2 L283.9,790.5 L284.9,790.4 L285.9,789.7 L286.9,788.6 L287.9,787.2 L288.9,785.5 L289.9,783.9 L290.9,782.3 L291.9,780.9 L292.9,779.9 L293.9,779.4 L294.9,779.4 L295.9,779.8 L296.9,780.4 L297.9,781.2 L298.9,782.0 L299.9,782.8 L300.9,783.7 L301.9,784.4 L302.9,785.0 L303.9,785.5 L304.9,785.7 L305.9,785.8 L306.9,785.7 L307.9,785.5 L308.9,785.2 L309.9,784.8 L310.9,784.5 L311.9,784.1 L312.9,783.9 L313.9,783.7 L314.9,783.7 L315.9,783.8 L316.9,783.9 L317.9,784.1 L318.9,784.2 L319.9,784.2 L320.9,784.1 L321.9,783.9 L322.9,783.4 L323.9,782.7 L324.9,781.7 L325.9,780.5 L326.9,779.1 L327.9,777.5 L328.9,775.8 L329.9,774.0 L330.9,772.2 L331.9,770.5 L332.9,768.9 L333.9,767.4 L334.9,766.2 L335.9,765.4 L336.9,764.9 L337.9,764.7 L338.9,764.6 L339.9,764.7 L340.9,764.8 L341.9,764.9 L342.9,765.1 L343.9,765.2 L344.9,765.4 L345.9,765.6 L346.9,765.8 L347.9,766.0 L348.9,766.3 L349.9,766.5 L350.9,766.8 L351.9,767.1 L352.9,767.5 L353.9,768.0 L354.9,768.5 L355.9,769.1 L356.9,769.8 L357.9,770.6 L358.9,771.5 L359.9,772.6 L360.9,773.8 L361.9,775.2 L362.9,776.9 L363.9,778.7 L364.9,780.6 L365.9,782.5 L366.9,784.3 L367.9,786.0 L368.9,787.4 L369.9,788.5 L370.9,789.4 L371.9,789.9 L372.9,790.0 L373.9,789.9 L374.9,789.5 L375.9,788.9 L376.9,788.1 L377.9,787.1 L378.9,786.2 L379.9,785.2 L380.9,784.2 L381.9,783.4 L382.9,782.6 L383.9,782.1 L384.9,781.7 L385.9,781.5 L386.9,781.5 L387.9,781.8 L388.9,782.4 L389.9,783.2 L390.9,784.2 L391.9,785.3 L392.9,786.6 L393.9,787.8 L394.9,789.1 L395.9,790.3 L396.9,791.5 L397.9,792.5 L398.9,793.3 L399.9,793.9 L400.9,794.1 L401.9,794.0 L402.9,793.5 L403.9,792.8 L404.9,791.9 L405.9,791.0 L406.9,790.1 L407.9,789.3 L408.9,788.6 L409.9,788.3 L410.9,788.2 L411.9,788.6 L412.9,789.3 L413.9,790.4 L414.9,791.7 L415.9,793.1 L416.9,794.4 L417.9,795.6 L418.9,796.6 L419.9,797.2 L420.9,797.4 L421.9,797.2 L422.9,796.6 L423.9,795.9 L424.9,795.1 L425.9,794.3 L426.9,793.5 L427.9,793.0 L428.9,792.7 L429.9,792.8 L430.9,793.2 L431.9,793.8 L432.9,794.5 L433.9,795.1 L434.9,795.5 L435.9,795.7 L436.9,795.5 L437.9,795.1 L438.9,794.5 L439.9,793.9 L440.9,793.3 L441.9,792.9 L442.9,792.7 L443.9,792.9 L444.9,793.5 L445.9,794.3 L446.9,795.4 L447.9,796.6 L448.9,797.6 L449.9,798.5 L450.9,799.0 L451.9,799.0 L452.9,798.5 L453.9,797.6 L454.9,796.5 L455.9,795.3 L456.9,794.3 L457.9,793.6 L458.9,793.4 L459.9,793.6 L460.9,794.3 L461.9,795.3 L462.9,796.5 L463.9,797.6 L464.9,798.5 L465.9,799.0 L466.9,799.0 L467.9,798.1 L468.9,796.5 L469.9,794.5 L470.9,792.2 L471.9,790.0 L472.9,788.1 L473.9,786.9 L474.9,786.4 L475.9,786.8 L476.9,787.8 L477.9,789.2 L478.9,790.8 L479.9,792.6 L480.9,794.4 L481.9,796.0 L482.9,797.4 L483.9,798.3 L484.9,798.8 L485.9,798.6 L486.9,798.0 L487.9,797.1 L488.9,796.0 L489.9,794.8 L490.9,793.6 L491.9,792.6 L492.9,791.9 L493.9,791.4 L494.9,791.2 L495.9,791.4 L496.9,791.7 L497.9,792.4 L498.9,793.3 L499.9,794.4 L500.9,795.6 L501.9,797.0 L502.9,798.3 L503.9,799.7 L504.9,800.8 L505.9,801.8 L506.9,802.4 L507.9,802.7 L508.9,802.6 L509.9,802.0 L510.9,800.9 L511.9,799.6 L512.9,798.1 L513.9,796.7 L514.9,795.6 L515.9,794.8 L516.9,794.5 L517.9,794.9 L518.9,796.0 L519.9,797.4 L520.9,799.0 L521.9,800.6 L522.9,802.0 L523.9,803.1 L524.9,803.6 L525.9,803.3 L526.9,802.5 L527.9,801.2 L528.9,799.8 L529.9,798.5 L530.9,797.4 L531.9,796.8 L532.9,796.8 L533.9,797.3 L534.9,798.2 L535.9,799.2 L536.9,800.2 L537.9,801.0 L538.9,801.4 L539.9,801.3 L540.9,800.5 L541.9,799.3 L542.9,797.7 L543.9,796.1 L544.9,794.4 L545.9,793.0 L546.9,792.0 L547.9,791.6 L548.9,791.7 L549.9,792.3 L550.9,793.1 L551.9,794.1 L552.9,795.2 L553.9,796.2 L554.9,797.1 L555.9,797.7 L556.9,798.0 L557.9,797.9 L558.9,797.7 L559.9,797.5 L560.9,797.4 L561.9,797.8 L562.9,798.4 L563.9,799.2 L564.9,800.1 L565.9,800.8 L566.9,801.3 L567.9,801.3 L568.9,800.9 L569.9,800.0 L570.9,798.8 L571.9,797.4 L572.9,796.1 L573.9,794.9 L574.9,793.9 L575.9,793.4 L576.9,793.4 L577.9,793.9 L578.9,794.8 L579.9,796.0 L580.9,797.2 L581.9,798.2 L582.9,798.9 L583.9,799.0 L584.9,798.5 L585.9,797.4 L586.9,796.0 L587.9,794.5 L588.9,792.9 L589.9,791.5 L590.9,790.5 L591.9,790.0 L592.9,790.2 L593.9,791.1 L594.9,792.8 L595.9,794.9 L596.9,797.4 L597.9,799.8 L598.9,801.9 L599.9,803.5 L600.9,804.3 L601.9,804.2 L602.9,803.3 L603.9,801.7 L604.9,799.9 L605.9,797.8 L606.9,795.7 L607.9,793.9 L608.9,792.5 L609.9,791.8 L610.9,791.7 L611.9,792.2 L612.9,793.0 L613.9,793.9 L614.9,794.8 L615.9,795.6 L616.9,796.2 L617.9,796.4 L618.9,796.2 L619.9,795.7 L620.9,794.9 L621.9,794.1 L622.9,793.3 L623.9,792.5 L624.9,792.0 L625.9,791.8 L626.9,792.0 L627.9,792.8 L628.9,794.2 L629.9,796.0 L630.9,797.9 L631.9,799.9 L632.9,801.5 L633.9,802.7 L634.9,803.2 L635.9,802.9 L636.9,801.9 L637.9,800.5 L638.9,798.8 L639.9,797.0 L640.9,795.2 L641.9,793.6 L642.9,792.4 L643.9,791.7 L644.9,791.7 L645.9,792.3 L646.9,793.3 L647.9,794.6 L648.9,795.8 L649.9,796.6 L650.9,796.8 L651.9,796.2 L652.9,795.2 L653.9,793.8 L654.9,792.4 L655.9,791.1 L656.9,790.2 L657.9,789.8 L658.9,790.1 L659.9,790.9 L660.9,792.3 L661.9,794.0 L662.9,795.7 L663.9,797.4 L664.9,798.8 L665.9,799.6 L666.9,799.8 L667.9,799.3 L668.9,798.4 L669.9,797.2 L670.9,796.0 L671.9,794.9 L672.9,794.1 L673.9,793.9 L674.9,794.1 L675.9,794.6 L676.9,795.3 L677.9,796.1 L678.9,796.9 L679.9,797.6 L680.9,798.0 L681.9,798.2 L682.9,798.3 L683.9,798.3 L684.9,798.2 L685.9,798.0 L686.9,797.9 L687.9,797.7 L688.9,797.7 L689.9,797.7 L690.9,797.9 L691.9,798.2 L692.9,798.6 L693.9,799.0 L694.9,799.1 L695.9,798.9 L696.9,798.5 L697.9,797.8 L698.9,797.0 L699.9,796.0 L700.9,794.9 L701.9,793.6 L702.9,792.4 L703.5,791.6" fill="none" stroke="#3a3a3a" stroke-width="1.00" stroke-linejoin="round"/>
<text x="1066.0" y="70.1" font-size="29.5" text-anchor="middle" font-weight="bold">4</text>
<text x="995.6" y="266.8" font-size="29.5" text-anchor="middle" font-weight="bold">30</text>
<text x="1114.0" y="264.1" font-size="29.5" text-anchor="middle" font-weight="bold">4</text>
<text x="953.4" y="529.0" font-size="29.5" text-anchor="middle" font-weight="bold">55</text>
<text x="996.9" y="447.7" font-size="29.5" text-anchor="middle" font-weight="bold">30</text>
<text x="1100.4" y="531.2" font-size="29.5" text-anchor="middle" font-weight="bold">4</text>
<text x="944.6" y="735.4" font-size="29.5" text-anchor="middle" font-weight="bold">55</text>
<text x="1047.5" y="735.4" font-size="29.5" text-anchor="middle" font-weight="bold">30</text>
<text x="383.9" y="780.4" font-size="29.5" text-anchor="middle" font-weight="bold">55</text>
<text x="1184.5" y="76.1" font-size="29.3" font-weight="bold"><tspan>Al</tspan><tspan font-size="21" dy="-12.4">VI</tspan><tspan dy="12.4">&#8211;Al</tspan><tspan font-size="21" dy="-12.4">VI</tspan></text>
<text x="1184.5" y="270.5" font-size="29.3" font-weight="bold"><tspan>Al</tspan><tspan font-size="21" dy="-12.4">V</tspan><tspan dy="12.4">&#8211;Al</tspan><tspan font-size="21" dy="-12.4">VI</tspan></text>
<text x="1184.5" y="509.9" font-size="29.3" font-weight="bold"><tspan>Al</tspan><tspan font-size="21" dy="-12.4">V</tspan><tspan dy="12.4">&#8211;Al</tspan><tspan font-size="21" dy="-12.4">V</tspan></text>
<text x="1184.5" y="544.6" font-size="29.3" font-weight="bold"><tspan>&amp; Al</tspan><tspan font-size="21" dy="-12.4">IV</tspan><tspan dy="12.4">&#8211;Al</tspan><tspan font-size="21" dy="-12.4">VI</tspan></text>
<text x="1184.5" y="766.9" font-size="29.3" font-weight="bold"><tspan>Al</tspan><tspan font-size="21" dy="-12.4">IV</tspan><tspan dy="12.4">&#8211;Al</tspan><tspan font-size="21" dy="-12.4">V</tspan></text>
<text x="563.0" y="775.3" font-size="29.3" font-weight="bold"><tspan>Al</tspan><tspan font-size="21" dy="-12.4">IV</tspan><tspan dy="12.4">&#8211;Al</tspan><tspan font-size="21" dy="-12.4">IV</tspan></text>
<g fill="none" stroke="#333" stroke-width="0.9" stroke-linejoin="round">
<path d="M271.1,394.5 L270.9,391.2 L271.0,388.7 L271.6,385.7 L272.5,383.4 L275.3,379.1 L282.8,370.6 L284.5,367.9 L285.7,365.0 L286.4,361.9 L286.7,358.1 L286.0,346.8 L286.3,341.2 L286.9,338.1 L287.9,334.9 L289.1,332.6 L290.3,331.2 L291.2,330.6 L293.0,330.0 L298.1,329.4 L301.2,328.7 L303.6,327.8 L308.2,325.6 L310.5,324.8 L312.9,324.7 L318.5,326.0 L321.2,326.3 L323.9,326.0 L325.7,325.4 L327.0,324.4 L328.0,322.9 L329.9,316.6 L331.3,313.7 L333.2,311.2 L336.2,308.9 L338.4,307.7 L340.2,307.0 L342.7,306.6 L349.6,305.9 L351.4,305.3 L353.1,304.5 L355.1,302.9 L356.9,301.1 L364.2,292.3 L366.2,290.7 L367.8,289.8 L370.2,289.5 L372.8,289.9 L374.6,290.7 L379.4,293.3 L381.0,293.9 L382.7,294.0 L384.9,293.2 L387.9,290.6 L392.9,283.7 L395.5,281.2 L408.6,272.4 L419.4,267.1 L423.2,264.9 L426.6,262.1 L434.3,254.6 L436.8,252.9 L439.0,251.8 L443.8,250.4 L452.1,249.0 L459.0,247.5 L461.4,247.2 L465.1,247.5 L473.7,249.5 L476.3,249.6 L478.8,249.2 L481.2,248.3 L483.4,246.9 L488.1,241.9 L490.0,240.2 L492.2,239.0 L495.3,238.1 L497.2,237.9 L499.7,238.1 L507.1,239.4 L510.3,239.7 L519.7,238.9 L528.5,238.9 L531.8,238.5 L533.2,237.6 L534.0,236.2 L534.4,234.5 L535.3,227.5 L536.2,225.0 L537.7,222.9 L539.6,221.3 L541.8,220.3 L544.9,219.6 L548.4,219.4 L550.4,219.6 L551.5,219.9 L552.5,220.6 L553.4,222.0 L554.0,223.9 L554.2,225.9 L554.1,234.3 L554.5,237.9 L555.2,240.4 L556.1,242.1 L557.3,243.6 L558.2,244.3 L560.5,245.0 L563.8,244.8 L566.5,244.1 L570.9,242.1 L572.6,241.7 L574.3,242.0 L579.5,244.9 L583.1,246.1 L586.2,246.3 L593.2,245.4 L596.2,245.6 L599.2,246.5 L605.5,249.7 L608.4,250.9 L610.9,251.3 L616.1,251.4 L618.5,251.9 L620.4,253.4 L622.1,256.2 L622.6,258.8 L622.4,262.0 L621.1,264.9 L619.0,267.2 L616.9,268.7 L613.5,270.5 L602.2,274.5 L597.7,276.8 L595.8,278.5 L594.6,280.0 L593.8,281.7 L592.4,285.9 L591.7,286.9 L590.3,288.1 L587.2,289.4 L581.6,290.3 L579.2,291.0 L577.6,291.9 L575.6,293.6 L574.5,295.2 L573.7,296.9 L571.9,304.3 L566.6,317.7 L562.6,324.9 L561.0,326.9 L559.6,328.1 L556.8,329.5 L553.7,330.3 L543.0,331.0 L538.7,331.7 L533.9,333.2 L526.1,336.2 L523.7,336.8 L521.3,336.6 L514.6,334.5 L512.8,334.5 L510.3,335.3 L507.6,337.0 L505.0,339.7 L503.2,342.3 L498.4,350.4 L494.5,355.3 L481.6,368.3 L478.2,371.1 L476.0,372.3 L474.3,372.8 L466.1,373.8 L462.4,374.8 L441.8,382.8 L434.8,386.9 L427.5,390.6 L418.7,396.6 L409.7,401.5 L407.4,402.0 L405.7,401.6 L404.1,400.7 L400.3,397.8 L398.0,396.3 L395.7,395.4 L393.9,395.2 L392.8,395.4 L391.1,396.1 L386.6,398.8 L383.7,400.2 L380.8,401.2 L374.1,402.7 L370.5,404.1 L368.8,405.2 L367.3,406.4 L366.1,407.8 L365.6,409.4 L365.6,411.6 L366.7,417.8 L367.0,421.1 L366.7,424.7 L366.2,425.7 L365.6,426.3 L364.3,426.3 L362.1,425.0 L359.9,423.0 L356.4,419.1 L354.6,417.6 L352.3,416.7 L349.1,416.2 L345.4,416.9 L337.7,419.7 L330.3,421.0 L327.2,421.8 L323.2,423.6 L318.5,426.9 L316.9,427.9 L314.4,428.5 L311.7,428.2 L310.5,427.7 L309.6,427.0 L309.0,426.1 L308.6,425.0 L308.5,421.8 L309.5,414.1 L309.3,411.0 L308.9,409.2 L308.1,407.6 L307.1,406.0 L305.2,404.2 L303.7,403.1 L301.3,402.0 L297.0,401.1 L292.5,401.3 L282.6,402.7 L279.3,402.6 L276.6,402.1 L274.3,401.1 L273.0,399.9 L271.8,397.7 L271.1,394.5"/>
<path d="M319.4,416.4 L318.1,416.4 L317.5,415.6 L315.6,409.4 L314.6,404.6 L313.4,402.1 L311.6,400.3 L305.9,395.9 L304.2,394.9 L301.1,393.6 L298.4,393.3 L289.4,394.2 L284.1,395.9 L281.6,396.3 L279.6,395.8 L279.0,395.4 L278.5,394.6 L278.4,392.6 L279.0,390.1 L279.8,388.1 L281.6,384.9 L283.4,380.1 L284.5,378.6 L288.5,375.1 L289.4,373.8 L290.0,372.1 L291.3,365.1 L291.4,363.1 L290.1,356.6 L289.1,346.6 L289.1,344.6 L289.9,339.9 L290.7,336.4 L291.7,334.4 L293.1,333.2 L295.1,332.5 L297.4,332.2 L300.6,332.0 L304.9,332.2 L307.1,332.6 L310.4,334.1 L316.4,335.8 L320.4,336.3 L323.1,335.7 L329.6,332.3 L332.1,330.1 L335.2,324.1 L337.4,317.1 L338.1,315.8 L339.2,314.6 L341.5,312.9 L344.1,311.7 L346.6,311.2 L352.4,310.7 L353.9,310.2 L355.4,309.4 L356.9,308.0 L358.4,306.3 L365.5,296.1 L367.0,294.6 L368.4,293.6 L369.9,293.1 L371.6,293.2 L378.6,295.9 L381.6,296.6 L384.6,296.6 L387.1,295.9 L388.6,295.1 L390.1,293.8 L395.5,286.4 L397.1,284.7 L406.9,278.0 L411.9,275.2 L415.6,272.8 L424.6,268.3 L427.6,266.6 L430.4,264.3 L433.1,261.4 L436.4,258.3 L440.4,255.2 L443.1,254.3 L451.4,253.6 L462.1,251.3 L465.4,251.6 L473.1,253.4 L476.9,253.3 L479.6,252.9 L482.9,251.7 L485.5,250.4 L488.2,248.1 L492.0,243.9 L493.9,242.7 L495.9,242.0 L498.1,241.9 L503.9,243.1 L507.4,243.5 L534.9,242.1 L541.4,243.6 L549.1,246.1 L555.9,247.9 L561.9,248.6 L566.4,248.3 L571.9,246.6 L573.1,246.5 L578.4,248.6 L583.9,249.8 L586.9,250.2 L593.6,250.0 L595.9,250.4 L598.6,251.5 L603.4,254.2 L609.6,256.7 L611.9,257.2 L615.4,257.3 L616.2,257.6 L616.8,258.4 L617.0,259.4 L616.9,260.7 L616.4,261.7 L615.4,262.7 L608.4,266.8 L602.1,268.9 L600.1,269.9 L596.6,272.1 L593.6,274.6 L592.1,276.1 L590.9,277.9 L590.1,279.9 L589.2,283.4 L588.1,284.7 L586.9,285.4 L585.1,285.9 L580.6,286.4 L577.6,287.2 L575.2,288.4 L573.2,290.1 L572.0,291.6 L571.1,293.6 L569.2,300.4 L566.0,307.4 L564.5,313.4 L563.6,315.5 L558.8,323.4 L557.5,324.9 L556.1,325.8 L552.9,326.8 L542.9,327.3 L539.9,327.8 L524.4,332.4 L522.4,332.3 L518.1,330.4 L515.6,329.8 L511.9,330.3 L507.9,331.6 L505.1,333.5 L502.3,336.6 L500.1,339.6 L496.4,346.2 L488.9,355.4 L478.4,365.7 L476.1,367.6 L474.4,368.5 L471.9,369.2 L462.9,370.2 L460.9,370.6 L455.1,373.2 L443.9,377.3 L437.1,380.5 L430.6,383.9 L419.4,390.8 L414.4,394.3 L409.1,397.0 L407.9,397.2 L406.8,396.9 L402.6,393.2 L399.6,391.5 L396.9,391.0 L393.9,391.3 L391.6,391.9 L388.9,393.1 L384.1,395.8 L381.9,396.9 L378.4,397.8 L372.4,399.1 L367.4,400.9 L365.6,402.3 L363.6,404.5 L361.5,408.1 L359.8,412.1 L358.9,413.0 L356.4,412.7 L349.6,410.6 L347.1,410.5 L344.9,411.1 L340.8,413.9 L337.9,414.9 L327.4,415.6 L322.9,415.6 L319.4,416.4"/>
<path d="M356.1,408.2 L354.9,408.0 L349.9,406.2 L343.9,405.6 L341.4,405.9 L337.4,407.5 L334.9,408.0 L333.1,408.0 L328.4,407.4 L323.4,407.7 L322.4,406.9 L320.9,404.4 L318.8,398.6 L317.8,396.6 L312.9,389.9 L310.9,388.1 L309.1,387.3 L304.9,386.7 L299.9,385.6 L298.1,385.7 L293.1,386.7 L291.1,386.5 L290.1,385.9 L290.0,384.9 L290.6,383.2 L291.9,381.4 L295.3,377.6 L296.1,375.9 L296.6,373.9 L297.3,365.4 L297.3,362.9 L296.8,360.4 L294.7,354.4 L293.5,346.1 L293.6,343.9 L294.3,340.4 L295.0,338.4 L295.7,337.4 L296.6,336.8 L298.1,336.3 L301.1,336.3 L302.6,336.7 L308.1,339.0 L312.9,339.9 L317.1,341.3 L319.4,341.5 L321.4,341.3 L323.6,340.6 L328.6,337.8 L332.9,336.0 L334.4,335.0 L335.6,333.9 L337.9,330.6 L339.2,327.6 L341.2,320.6 L342.6,318.3 L344.1,317.0 L345.6,316.4 L347.4,316.2 L353.1,316.2 L354.9,315.6 L356.4,314.7 L358.1,312.9 L364.0,305.1 L367.7,299.1 L369.3,297.4 L370.1,297.0 L371.1,297.0 L379.4,299.2 L382.6,299.7 L387.1,299.5 L390.4,298.5 L391.9,297.6 L393.4,296.1 L396.6,290.4 L399.1,287.6 L404.7,284.4 L410.6,280.3 L414.2,278.4 L419.1,275.3 L426.1,272.1 L430.9,269.2 L433.9,267.0 L436.6,263.6 L438.7,261.6 L441.1,260.0 L443.1,259.2 L454.6,257.1 L460.1,255.2 L462.1,254.8 L464.6,255.2 L472.4,257.6 L476.1,257.7 L478.6,257.4 L481.9,256.3 L486.9,253.8 L490.1,251.2 L493.9,247.4 L495.1,246.6 L496.6,246.1 L498.4,246.1 L503.6,247.1 L506.9,247.4 L533.4,246.0 L535.9,246.3 L548.7,250.4 L556.6,252.1 L564.4,252.4 L567.1,252.1 L571.1,251.0 L572.6,250.9 L576.6,252.4 L583.6,254.2 L586.6,254.5 L590.4,254.5 L593.1,254.8 L595.2,255.6 L598.9,258.2 L603.4,260.6 L604.3,261.4 L604.3,261.9 L603.5,262.6 L599.6,264.3 L597.6,265.6 L589.6,273.5 L587.4,276.5 L585.1,281.4 L583.9,281.9 L578.9,282.6 L576.1,283.5 L572.4,285.6 L569.6,288.4 L567.4,291.9 L565.6,298.4 L562.2,304.9 L561.1,310.4 L560.3,312.9 L559.1,314.9 L555.4,320.2 L553.9,321.6 L552.1,322.3 L548.4,323.1 L540.1,323.8 L535.1,325.3 L527.6,326.8 L523.6,328.0 L522.1,328.0 L517.1,326.2 L514.9,325.8 L512.4,325.9 L509.6,326.8 L505.1,329.2 L502.8,331.1 L500.5,333.4 L497.3,337.1 L494.0,342.4 L490.6,346.1 L484.6,353.9 L481.1,357.9 L477.6,361.3 L474.4,363.6 L472.9,364.2 L470.9,364.8 L461.6,366.0 L459.4,366.5 L457.1,367.4 L453.1,369.6 L444.4,373.3 L436.4,376.2 L431.4,379.3 L419.9,385.3 L412.6,390.2 L409.1,391.9 L408.1,392.0 L407.4,391.8 L403.3,388.9 L399.9,387.3 L396.9,386.6 L394.1,386.7 L392.4,387.0 L390.6,387.6 L384.9,390.8 L382.6,391.8 L377.9,393.0 L366.6,396.3 L363.2,398.1 L360.2,400.4 L359.3,401.9 L357.4,407.1 L356.9,407.8 L356.1,408.2"/>
<path d="M334.6,403.2 L333.1,403.2 L331.4,402.8 L328.1,401.8 L327.1,401.1 L326.1,399.4 L324.4,393.8 L321.8,390.4 L319.9,387.1 L318.5,385.6 L313.6,382.8 L309.9,380.2 L308.4,379.7 L305.1,379.5 L304.3,379.1 L304.3,378.1 L306.1,375.4 L306.6,373.4 L306.6,371.6 L306.0,367.4 L305.8,363.6 L305.4,362.1 L303.7,358.9 L302.3,355.1 L298.9,351.1 L297.9,349.2 L297.3,346.1 L297.8,343.1 L298.4,342.1 L299.1,341.4 L300.1,341.2 L301.6,341.3 L304.1,342.2 L310.1,345.4 L315.9,347.4 L318.9,348.0 L320.6,347.7 L325.4,346.1 L329.9,344.9 L333.4,343.5 L337.1,343.7 L338.4,343.4 L339.1,342.8 L339.5,341.9 L339.1,338.9 L339.2,337.4 L342.9,330.9 L344.7,324.9 L345.4,323.5 L346.1,322.9 L346.9,322.8 L350.4,323.3 L352.1,323.1 L355.9,321.1 L359.0,318.9 L360.1,317.6 L360.9,315.9 L363.5,311.9 L366.7,307.6 L369.6,302.3 L370.6,301.1 L372.1,300.8 L380.6,302.1 L385.4,302.4 L388.6,302.2 L391.4,301.5 L394.0,300.1 L396.7,297.9 L398.4,295.6 L400.6,291.7 L402.1,290.2 L408.9,286.9 L411.1,286.1 L412.1,285.4 L413.1,283.9 L414.9,282.6 L418.9,280.5 L426.6,277.0 L429.4,275.6 L433.1,272.6 L438.5,269.4 L439.6,268.1 L441.1,265.4 L443.1,263.9 L449.1,261.9 L451.9,261.4 L455.9,261.0 L460.7,258.9 L462.6,258.5 L465.4,259.1 L469.9,261.1 L471.9,263.5 L472.9,264.1 L474.4,264.3 L476.9,263.8 L479.4,262.9 L481.9,260.9 L489.1,257.4 L490.7,256.1 L495.9,251.0 L497.6,250.1 L506.9,251.0 L518.4,249.5 L521.4,249.4 L528.4,250.1 L534.9,249.6 L538.1,250.5 L547.7,254.1 L551.9,256.5 L553.6,257.1 L555.6,257.2 L560.6,256.7 L565.6,256.7 L573.6,257.6 L576.1,256.8 L582.1,258.2 L585.1,258.3 L589.9,259.0 L592.6,259.9 L593.9,260.9 L594.1,261.6 L593.8,262.4 L590.9,267.4 L582.7,277.6 L581.6,278.2 L576.4,279.6 L572.0,281.9 L568.4,284.6 L563.9,289.4 L561.6,290.3 L560.4,291.4 L559.6,293.1 L559.0,296.9 L557.9,300.9 L558.0,302.4 L558.7,304.6 L558.7,307.6 L558.2,309.9 L557.4,311.6 L556.1,313.2 L553.6,316.0 L550.6,318.4 L546.6,319.5 L539.9,319.6 L530.6,321.4 L528.6,321.0 L527.4,321.1 L525.9,321.7 L523.4,323.4 L522.3,323.9 L518.8,322.9 L516.4,321.2 L514.9,321.0 L513.4,321.4 L505.4,324.6 L502.8,326.4 L497.9,330.9 L495.4,333.6 L490.1,340.6 L487.4,342.9 L482.1,349.2 L480.7,352.1 L478.1,355.9 L476.4,357.7 L474.4,359.2 L472.4,360.4 L471.1,360.8 L462.6,360.5 L460.4,360.9 L458.9,361.5 L453.4,365.0 L447.9,367.1 L440.1,370.8 L434.6,372.9 L428.6,376.4 L424.1,377.1 L418.9,378.3 L416.6,379.9 L412.8,384.9 L411.4,386.0 L410.1,386.7 L408.1,386.9 L404.7,385.6 L401.8,384.1 L398.0,381.4 L396.4,380.7 L391.4,379.8 L388.1,380.0 L386.6,380.6 L385.7,381.6 L385.3,382.9 L385.2,385.4 L382.4,387.4 L380.1,388.4 L377.1,388.7 L372.4,390.0 L368.4,390.4 L366.9,390.9 L364.5,392.4 L356.3,396.9 L354.5,398.4 L352.4,400.9 L350.9,401.0 L344.1,399.7 L343.1,399.7 L340.9,400.3 L336.9,402.5 L334.6,403.2"/>
<path d="M348.6,389.7 L346.9,389.5 L345.4,388.9 L341.6,385.4 L339.8,384.4 L337.6,383.8 L334.4,383.9 L333.1,383.6 L331.6,382.6 L328.5,379.4 L326.9,378.2 L325.1,377.4 L320.4,375.9 L317.4,374.3 L316.4,373.1 L316.0,371.4 L315.9,367.9 L316.4,364.9 L317.9,361.9 L318.9,360.7 L319.9,359.9 L325.9,358.9 L332.6,355.3 L344.0,352.1 L345.6,351.4 L347.1,350.2 L351.6,343.9 L354.9,339.9 L356.8,336.9 L360.4,334.1 L363.7,329.9 L368.9,326.5 L371.5,323.6 L373.1,319.8 L373.8,316.9 L373.7,315.1 L372.6,311.1 L372.6,308.5 L373.5,306.4 L375.1,304.7 L379.6,304.7 L388.1,305.2 L399.9,308.2 L402.4,308.4 L404.9,308.1 L407.9,306.9 L411.0,304.9 L412.0,303.6 L414.1,299.6 L415.3,298.4 L416.6,297.4 L418.9,296.4 L423.4,295.5 L425.4,294.8 L435.4,287.7 L443.5,283.1 L448.4,281.3 L451.9,279.4 L453.4,279.1 L457.1,279.1 L461.1,278.4 L465.1,279.0 L467.1,278.9 L468.9,278.2 L473.6,275.1 L476.9,274.1 L478.9,274.3 L481.6,276.3 L483.4,276.8 L484.6,276.7 L488.4,275.6 L492.9,275.5 L494.4,275.2 L496.6,273.8 L498.8,271.4 L499.9,269.4 L501.1,265.8 L501.9,264.4 L502.9,263.7 L506.4,262.6 L508.0,261.6 L509.1,260.4 L511.4,256.1 L512.7,254.4 L514.7,252.9 L517.1,252.1 L518.9,251.9 L520.6,252.2 L522.1,252.7 L523.7,253.6 L526.3,256.1 L531.1,262.4 L532.1,263.2 L541.4,265.6 L543.1,266.4 L548.1,269.6 L554.9,271.3 L555.9,271.8 L556.4,272.4 L556.6,273.1 L556.4,277.9 L555.5,281.1 L553.9,283.7 L549.2,287.4 L547.4,289.6 L546.7,291.6 L546.4,295.9 L544.2,300.1 L543.5,303.6 L543.1,304.2 L542.1,304.4 L538.9,303.7 L536.6,303.9 L534.6,304.6 L530.4,307.1 L527.6,307.8 L523.1,307.7 L519.4,306.5 L518.1,306.5 L516.9,307.0 L513.4,309.5 L509.1,311.5 L505.6,314.1 L504.1,315.0 L501.8,315.6 L496.9,316.1 L494.9,316.9 L492.1,319.1 L485.9,326.1 L480.5,329.9 L476.6,335.2 L471.6,339.2 L470.5,340.9 L468.7,345.6 L467.9,346.7 L467.0,347.4 L465.1,347.9 L457.4,348.2 L454.7,348.9 L452.9,350.1 L449.6,354.4 L447.4,356.2 L442.0,358.6 L437.4,359.8 L432.7,361.9 L425.7,363.9 L418.0,368.9 L408.1,374.1 L406.9,374.3 L405.6,374.1 L400.4,372.0 L397.6,371.7 L395.9,372.0 L390.8,373.4 L383.9,374.8 L377.1,376.6 L370.4,377.7 L368.1,377.7 L363.1,376.7 L361.4,376.8 L359.4,377.3 L353.0,380.4 L351.7,381.4 L351.2,382.4 L350.9,383.4 L351.2,386.9 L351.0,388.1 L350.3,389.1 L348.6,389.7"/>
<path d="M574.6,274.4 L572.4,274.4 L570.9,273.7 L568.4,270.6 L566.8,269.1 L566.9,268.4 L568.4,267.4 L570.6,266.5 L576.9,265.3 L579.6,265.2 L582.1,265.3 L583.6,265.7 L584.6,266.4 L585.0,267.4 L584.8,268.6 L584.0,270.1 L582.8,271.4 L581.4,272.4 L579.4,273.3 L574.6,274.4"/>
<path d="M554.4,309.2 L553.4,309.3 L552.5,308.6 L552.6,307.6 L553.4,307.0 L554.4,306.9 L555.1,307.6 L555.1,308.6 L554.4,309.2"/>
<path d="M333.9,398.9 L332.9,399.0 L331.9,398.7 L331.0,398.1 L330.4,397.4 L330.2,396.6 L330.3,395.6 L330.7,394.9 L331.4,394.3 L332.4,394.1 L333.6,394.3 L334.9,394.9 L335.6,395.8 L335.8,396.6 L335.6,397.6 L334.9,398.5 L333.9,398.9"/>
<path d="M519.1,268.9 L517.1,268.6 L515.4,267.5 L514.3,265.9 L513.9,263.6 L514.0,260.1 L514.9,257.5 L516.4,255.8 L518.4,255.2 L520.6,255.6 L522.4,256.9 L523.8,259.1 L524.5,261.9 L524.2,264.4 L523.1,266.6 L521.4,268.2 L519.1,268.9"/>
<path d="M339.4,376.6 L336.6,376.5 L334.4,375.2 L326.9,369.4 L326.3,368.1 L326.6,367.1 L330.4,365.5 L334.9,362.5 L342.9,358.1 L345.1,357.2 L349.6,355.9 L351.4,355.1 L352.9,354.1 L356.1,351.1 L357.6,350.1 L359.4,349.3 L363.1,348.3 L367.0,346.4 L368.5,345.1 L370.4,342.9 L372.1,341.7 L378.6,339.2 L381.9,337.4 L395.1,331.4 L397.0,330.1 L399.9,327.6 L404.6,326.6 L406.9,325.7 L409.2,323.6 L412.6,318.4 L418.4,314.2 L422.9,309.5 L429.2,306.4 L434.9,301.8 L437.1,300.4 L445.1,296.9 L450.1,295.3 L452.2,294.4 L453.9,293.0 L456.1,289.6 L457.6,288.5 L460.1,287.7 L462.1,287.5 L467.9,288.4 L474.1,288.4 L481.4,289.9 L484.4,289.8 L492.9,287.6 L500.1,285.4 L501.4,284.5 L503.9,281.3 L505.1,280.6 L506.6,280.3 L508.4,280.6 L512.9,282.4 L514.9,282.8 L517.1,282.8 L521.9,281.8 L524.6,282.1 L529.4,284.7 L531.6,288.4 L531.9,289.4 L531.5,290.4 L530.6,291.0 L529.4,291.3 L524.4,291.4 L521.1,292.1 L513.6,293.2 L511.6,293.1 L507.9,292.6 L506.9,292.7 L505.9,293.2 L501.9,296.6 L496.0,299.6 L494.8,300.9 L492.9,304.0 L491.9,305.2 L490.6,306.1 L486.6,308.2 L484.6,309.8 L483.1,311.7 L481.6,314.6 L480.8,316.6 L479.9,320.4 L479.0,322.1 L475.5,325.4 L472.1,330.0 L466.8,333.6 L460.9,339.0 L458.1,340.4 L453.1,341.7 L448.6,343.3 L446.1,343.7 L439.4,344.1 L437.1,344.7 L434.4,345.9 L431.7,347.9 L429.3,351.6 L428.1,352.7 L426.6,353.3 L423.1,353.5 L421.4,354.4 L420.1,356.0 L416.4,362.3 L414.9,363.8 L413.0,364.9 L410.6,365.7 L408.1,366.2 L402.1,365.4 L397.6,365.6 L395.1,366.2 L389.6,368.0 L386.9,368.7 L378.6,369.9 L373.6,370.2 L368.9,371.2 L363.4,371.6 L356.1,373.1 L348.0,373.9 L345.0,374.6 L340.9,376.3 L339.4,376.6"/>
<path d="M519.4,262.4 L518.8,262.4 L518.4,261.6 L518.5,260.9 L518.9,260.5 L519.4,260.6 L519.8,261.1 L519.8,261.9 L519.4,262.4"/>
<path d="M411.1,348.7 L408.9,348.6 L404.6,347.0 L400.4,344.1 L399.9,343.4 L400.1,342.6 L403.4,338.9 L406.9,334.1 L408.4,332.9 L412.8,330.1 L416.3,325.9 L420.9,322.1 L427.0,315.1 L429.7,312.9 L433.6,310.7 L439.1,309.3 L441.6,308.4 L444.0,306.9 L447.2,303.6 L449.1,302.2 L451.6,301.1 L456.6,299.5 L461.4,297.0 L464.1,296.7 L471.6,296.5 L475.8,295.4 L477.6,295.2 L482.4,295.6 L483.6,296.0 L484.4,296.6 L484.8,297.4 L484.8,298.6 L484.5,299.6 L483.9,300.5 L482.4,301.5 L477.9,303.0 L476.6,303.9 L475.6,305.2 L474.6,307.6 L474.5,313.1 L474.0,315.1 L473.2,317.1 L472.1,318.9 L468.8,322.9 L466.1,327.6 L464.6,329.3 L462.7,330.9 L455.9,334.7 L447.6,337.6 L434.6,340.5 L424.1,344.2 L421.4,344.6 L417.1,344.6 L415.9,344.8 L414.6,345.6 L412.6,347.9 L411.1,348.7"/>
<path d="M357.4,368.6 L354.4,368.8 L343.6,368.4 L342.5,368.1 L342.1,367.4 L342.6,366.4 L343.9,364.9 L346.1,362.9 L347.9,361.7 L356.9,357.7 L360.4,356.6 L362.9,356.5 L367.4,357.3 L370.1,356.7 L373.6,356.7 L375.9,357.2 L380.6,359.0 L383.9,359.6 L384.3,359.9 L384.2,360.4 L383.5,360.9 L380.1,362.4 L377.6,362.9 L372.1,363.5 L366.0,366.4 L360.4,368.1 L357.4,368.6"/>
<path d="M427.6,336.9 L424.1,337.0 L421.6,336.6 L419.4,335.4 L418.9,334.6 L418.9,333.9 L419.6,331.9 L420.9,329.9 L424.4,326.0 L427.9,321.4 L430.6,318.6 L432.9,316.8 L434.9,315.8 L441.1,314.1 L449.9,310.8 L451.9,309.7 L455.6,307.1 L458.4,305.7 L461.6,304.6 L462.4,304.6 L462.9,304.9 L464.3,308.9 L466.9,313.1 L467.1,315.1 L466.5,316.6 L463.6,320.5 L461.3,324.9 L459.4,327.1 L457.0,328.9 L454.9,330.2 L450.4,332.3 L446.4,333.8 L435.4,336.4 L427.6,336.9"/>
<path d="M438.4,331.1 L435.4,331.4 L432.9,331.1 L430.4,330.1 L429.4,329.0 L429.5,327.6 L430.7,325.4 L432.6,323.0 L434.9,321.1 L436.6,319.9 L438.4,319.2 L447.1,316.4 L451.1,315.4 L452.9,315.3 L454.1,315.5 L455.6,316.3 L456.8,317.4 L457.5,319.1 L457.2,321.4 L455.9,323.6 L453.6,325.9 L450.5,327.9 L446.9,329.4 L443.9,330.2 L438.4,331.1"/>
</g>
<ellipse cx="544.7" cy="233.9" rx="6.0" ry="9.8" fill="none" stroke="#333" stroke-width="0.9"/>
<ellipse cx="449.0" cy="418.0" rx="2.2" ry="3.2" fill="none" stroke="#333" stroke-width="0.9"/>
<ellipse cx="564.2" cy="412.4" rx="2.0" ry="3.6" fill="none" stroke="#333" stroke-width="0.9"/>
<ellipse cx="221.5" cy="201.7" rx="1.2" ry="1.8" fill="none" stroke="#333" stroke-width="0.9"/>
<ellipse cx="477.8" cy="221.5" rx="1.4" ry="3.0" fill="none" stroke="#333" stroke-width="0.9"/>
<ellipse cx="481.6" cy="184.3" rx="1.2" ry="2.5" fill="none" stroke="#333" stroke-width="0.9"/>
<ellipse cx="509.0" cy="263.0" rx="0.8" ry="0.8" fill="none" stroke="#333" stroke-width="0.9"/>
<circle cx="183.0" cy="148.0" r="0.8" fill="#444"/>
<circle cx="243.6" cy="146.7" r="0.8" fill="#444"/>
<circle cx="130.2" cy="166.8" r="0.8" fill="#444"/>
<circle cx="294.0" cy="181.0" r="0.8" fill="#444"/>
<circle cx="140.3" cy="211.1" r="0.8" fill="#444"/>
<circle cx="722.2" cy="216.2" r="0.8" fill="#444"/>
<circle cx="692.0" cy="264.0" r="0.8" fill="#444"/>
<circle cx="654.0" cy="289.0" r="0.8" fill="#444"/>
<circle cx="263.7" cy="336.0" r="0.8" fill="#444"/>
<circle cx="246.0" cy="304.3" r="0.8" fill="#444"/>
<circle cx="289.0" cy="306.0" r="0.8" fill="#444"/>
<circle cx="213.4" cy="407.6" r="0.8" fill="#444"/>
<circle cx="178.0" cy="463.0" r="0.8" fill="#444"/>
<circle cx="195.7" cy="463.0" r="0.8" fill="#444"/>
<circle cx="268.8" cy="442.9" r="0.8" fill="#444"/>
<circle cx="676.8" cy="453.0" r="0.8" fill="#444"/>
<circle cx="586.0" cy="478.0" r="0.8" fill="#444"/>
<circle cx="296.5" cy="475.6" r="0.8" fill="#444"/>
<circle cx="346.0" cy="155.7" r="0.8" fill="#444"/>
<circle cx="244.9" cy="243.2" r="0.8" fill="#444"/>
<circle cx="271.7" cy="292.2" r="0.8" fill="#444"/>
<circle cx="355.8" cy="205.9" r="0.8" fill="#444"/>
<circle cx="411.8" cy="204.7" r="0.8" fill="#444"/>
<circle cx="719.0" cy="216.6" r="0.8" fill="#444"/>
<circle cx="717.8" cy="221.8" r="0.8" fill="#444"/>
<circle cx="641.0" cy="220.5" r="0.8" fill="#444"/>
<circle cx="676.8" cy="262.7" r="0.8" fill="#444"/>
<circle cx="705.0" cy="271.7" r="0.8" fill="#444"/>
<circle cx="655.0" cy="289.6" r="0.8" fill="#444"/>
<ellipse cx="226.0" cy="450.4" rx="1.3" ry="2.2" fill="none" stroke="#333" stroke-width="0.8"/>
<ellipse cx="709.6" cy="458.0" rx="1.3" ry="2.0" fill="none" stroke="#333" stroke-width="0.8"/>
<ellipse cx="571.0" cy="158.2" rx="1.2" ry="2.0" fill="none" stroke="#333" stroke-width="0.8"/>
</svg>
</body></html>
